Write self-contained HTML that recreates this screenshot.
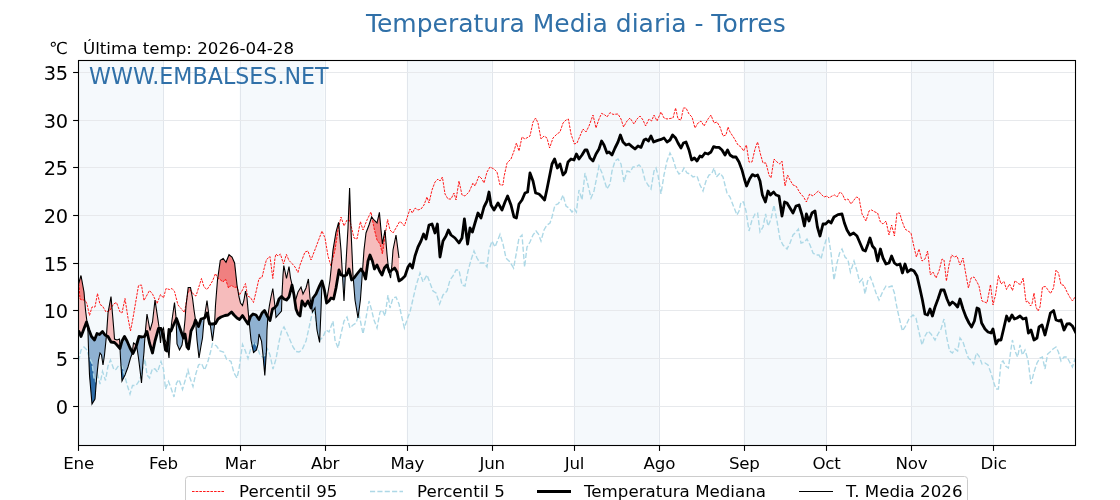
<!DOCTYPE html>
<html lang="es"><head><meta charset="utf-8"><title>Temperatura Media diaria - Torres</title>
<style>
html,body{margin:0;padding:0;background:#fff;}
body{width:1120px;height:500px;overflow:hidden;position:relative;font-family:"DejaVu Sans","Liberation Sans",sans-serif;}
svg text{font-family:"DejaVu Sans","Liberation Sans",sans-serif;fill:#000;}
.t12{font-size:16.67px;}
.t14{font-size:19.4px;letter-spacing:-0.45px;}
.title{font-size:25px;fill:#3070a8;}
.wm{font-size:22.2px;fill:#3070a8;}
</style></head><body>
<svg width="1120" height="500" viewBox="0 0 1120 500" style="position:absolute;left:0;top:0">
<defs><clipPath id="ax"><rect x="78.5" y="60.5" width="997" height="385"/></clipPath></defs>
<rect x="0" y="0" width="1120" height="500" fill="#fff"/>
<rect x="78.00" y="60.5" width="84.93" height="385.0" fill="#f5f9fc"/>
<rect x="239.63" y="60.5" width="84.93" height="385.0" fill="#f5f9fc"/>
<rect x="406.74" y="60.5" width="84.93" height="385.0" fill="#f5f9fc"/>
<rect x="573.85" y="60.5" width="84.93" height="385.0" fill="#f5f9fc"/>
<rect x="743.70" y="60.5" width="82.19" height="385.0" fill="#f5f9fc"/>
<rect x="910.81" y="60.5" width="82.19" height="385.0" fill="#f5f9fc"/>
<line x1="78.5" x2="78.5" y1="60.5" y2="445.5" stroke="#e1e6ec" stroke-width="1"/>
<line x1="163.5" x2="163.5" y1="60.5" y2="445.5" stroke="#e1e6ec" stroke-width="1"/>
<line x1="240.5" x2="240.5" y1="60.5" y2="445.5" stroke="#e1e6ec" stroke-width="1"/>
<line x1="325.5" x2="325.5" y1="60.5" y2="445.5" stroke="#e1e6ec" stroke-width="1"/>
<line x1="407.5" x2="407.5" y1="60.5" y2="445.5" stroke="#e1e6ec" stroke-width="1"/>
<line x1="492.5" x2="492.5" y1="60.5" y2="445.5" stroke="#e1e6ec" stroke-width="1"/>
<line x1="574.5" x2="574.5" y1="60.5" y2="445.5" stroke="#e1e6ec" stroke-width="1"/>
<line x1="659.5" x2="659.5" y1="60.5" y2="445.5" stroke="#e1e6ec" stroke-width="1"/>
<line x1="744.5" x2="744.5" y1="60.5" y2="445.5" stroke="#e1e6ec" stroke-width="1"/>
<line x1="826.5" x2="826.5" y1="60.5" y2="445.5" stroke="#e1e6ec" stroke-width="1"/>
<line x1="911.5" x2="911.5" y1="60.5" y2="445.5" stroke="#e1e6ec" stroke-width="1"/>
<line x1="993.5" x2="993.5" y1="60.5" y2="445.5" stroke="#e1e6ec" stroke-width="1"/>
<line x1="78.5" x2="1075.5" y1="406.5" y2="406.5" stroke="#e7e9ec" stroke-width="1"/>
<line x1="78.5" x2="1075.5" y1="358.5" y2="358.5" stroke="#e7e9ec" stroke-width="1"/>
<line x1="78.5" x2="1075.5" y1="310.5" y2="310.5" stroke="#e7e9ec" stroke-width="1"/>
<line x1="78.5" x2="1075.5" y1="263.5" y2="263.5" stroke="#e7e9ec" stroke-width="1"/>
<line x1="78.5" x2="1075.5" y1="215.5" y2="215.5" stroke="#e7e9ec" stroke-width="1"/>
<line x1="78.5" x2="1075.5" y1="167.5" y2="167.5" stroke="#e7e9ec" stroke-width="1"/>
<line x1="78.5" x2="1075.5" y1="120.5" y2="120.5" stroke="#e7e9ec" stroke-width="1"/>
<line x1="78.5" x2="1075.5" y1="72.5" y2="72.5" stroke="#e7e9ec" stroke-width="1"/>
<g clip-path="url(#ax)">
<polygon points="78.50,284.00 78.75,283.15 79.00,282.30 79.25,281.45 79.50,280.60 79.75,279.75 80.00,278.90 80.25,278.05 80.50,277.20 80.75,276.35 81.00,275.50 81.25,276.88 81.50,278.25 81.75,279.62 82.00,281.00 82.25,282.38 82.50,283.75 82.75,285.12 83.00,286.50 83.25,287.88 83.50,289.25 83.75,290.62 84.00,292.00 84.25,295.00 84.50,298.00 84.75,301.00 85.00,304.00 85.25,307.00 85.50,310.00 85.75,312.00 86.00,314.00 86.25,316.00 86.50,318.00 86.75,320.00 87.00,322.00 87.25,324.40 87.25,324.40 87.00,323.60 86.75,322.80 86.50,322.00 86.25,322.67 86.00,323.33 85.75,324.00 85.50,324.67 85.25,325.33 85.00,326.00 84.75,326.67 84.50,327.33 84.25,328.00 84.00,328.67 83.75,329.33 83.50,330.00 83.25,330.65 83.00,331.30 82.75,331.95 82.50,332.60 82.25,333.25 82.00,333.90 81.75,334.55 81.50,335.20 81.25,335.85 81.00,336.50 80.75,335.88 80.50,335.25 80.25,334.62 80.00,334.00 79.75,333.38 79.50,332.75 79.25,332.12 79.00,331.50 78.75,331.50 78.50,331.50" fill="#f6bcbc" fill-opacity="1"/><polygon points="106.25,335.62 106.50,335.00 106.75,331.33 107.00,327.67 107.25,324.00 107.50,320.33 107.75,316.67 108.00,313.00 108.25,311.62 108.50,310.25 108.75,308.88 109.00,307.50 109.25,306.12 109.50,304.75 109.75,303.38 110.00,302.00 110.25,300.62 110.50,299.25 110.75,297.88 111.00,296.50 111.25,299.44 111.50,302.38 111.75,305.31 112.00,308.25 112.25,311.19 112.50,314.12 112.75,317.06 113.00,320.00 113.25,323.00 113.50,326.00 113.75,329.00 114.00,332.00 114.25,335.50 114.50,339.00 114.75,339.10 115.00,339.20 115.25,339.30 115.50,339.40 115.75,339.50 116.00,339.60 116.25,339.70 116.50,339.80 116.75,339.90 117.00,340.00 117.25,339.90 117.50,339.80 117.75,339.70 118.00,339.60 118.25,339.50 118.50,339.40 118.75,339.30 119.00,339.20 119.25,339.10 119.50,339.00 119.75,343.50 120.00,348.00 120.25,347.56 120.25,347.56 120.00,348.50 119.75,348.21 119.50,347.92 119.25,347.62 119.00,347.33 118.75,347.04 118.50,346.75 118.25,346.46 118.00,346.17 117.75,345.88 117.50,345.58 117.25,345.29 117.00,345.00 116.75,344.75 116.50,344.50 116.25,344.25 116.00,344.00 115.75,343.75 115.50,343.50 115.25,343.25 115.00,343.00 114.75,342.75 114.50,342.50 114.25,342.46 114.00,342.43 113.75,342.39 113.50,342.36 113.25,342.32 113.00,342.29 112.75,342.25 112.50,342.21 112.25,342.18 112.00,342.14 111.75,342.11 111.50,342.07 111.25,342.04 111.00,342.00 110.75,341.54 110.50,341.08 110.25,340.62 110.00,340.17 109.75,339.71 109.50,339.25 109.25,338.79 109.00,338.33 108.75,337.88 108.50,337.42 108.25,336.96 108.00,336.50 107.75,336.38 107.50,336.25 107.25,336.12 107.00,336.00 106.75,335.88 106.50,335.75 106.25,335.62" fill="#f6bcbc" fill-opacity="1"/><polygon points="132.25,352.12 132.50,350.33 132.75,348.50 133.00,346.67 133.25,344.83 133.50,343.00 133.75,343.17 134.00,343.33 134.25,343.50 134.50,343.67 134.75,343.83 135.00,344.00 135.25,344.50 135.50,345.00 135.75,345.50 136.00,346.00 136.25,346.12 136.25,346.12 136.00,347.00 135.75,347.54 135.50,348.08 135.25,348.62 135.00,349.17 134.75,349.71 134.50,350.25 134.25,350.79 134.00,351.33 133.75,351.88 133.50,352.42 133.25,352.96 133.00,353.50 132.75,353.04 132.50,352.58 132.25,352.12" fill="#f6bcbc" fill-opacity="1"/><polygon points="145.00,335.50 145.25,333.25 145.50,330.00 145.75,327.33 146.00,324.67 146.25,322.00 146.50,319.33 146.75,316.67 147.00,314.00 147.25,315.38 147.50,316.75 147.75,318.12 148.00,319.50 148.25,320.88 148.50,322.25 148.75,323.62 149.00,325.00 149.25,326.38 149.50,327.75 149.75,329.12 150.00,330.50 150.25,329.65 150.50,328.80 150.75,327.95 151.00,327.10 151.25,326.25 151.50,325.40 151.75,324.55 152.00,323.70 152.25,322.85 152.50,322.00 152.75,319.80 153.00,317.60 153.25,315.40 153.50,313.20 153.75,311.00 154.00,308.80 154.25,306.60 154.50,304.40 154.75,302.20 155.00,300.00 155.25,301.67 155.50,303.33 155.75,305.00 156.00,306.67 156.25,308.33 156.50,310.00 156.75,311.67 157.00,313.33 157.25,315.00 157.50,316.67 157.75,318.33 158.00,320.00 158.25,321.75 158.50,323.50 158.75,325.25 159.00,327.00 159.25,328.50 159.25,328.50 159.00,328.50 158.75,328.50 158.50,328.50 158.25,329.39 158.00,330.29 157.75,331.18 157.50,332.07 157.25,332.96 157.00,333.86 156.75,334.75 156.50,335.64 156.25,336.54 156.00,337.43 155.75,338.32 155.50,339.21 155.25,340.11 155.00,341.00 154.75,342.20 154.50,343.40 154.25,344.60 154.00,345.80 153.75,347.00 153.50,348.20 153.25,349.40 153.00,350.60 152.75,351.80 152.50,353.00 152.25,352.17 152.00,351.33 151.75,350.50 151.50,349.67 151.25,348.83 151.00,348.00 150.75,347.17 150.50,346.33 150.25,345.50 150.00,344.67 149.75,343.83 149.50,343.00 149.25,341.85 149.00,340.70 148.75,339.55 148.50,338.40 148.25,337.25 148.00,336.10 147.75,334.95 147.50,333.80 147.25,332.65 147.00,331.50 146.75,332.00 146.50,332.50 146.25,333.00 146.00,333.50 145.75,334.00 145.50,334.50 145.25,335.00 145.00,335.50" fill="#f6bcbc" fill-opacity="1"/><polygon points="161.75,330.94 162.00,331.00 162.25,330.50 162.50,330.00 162.75,329.50 163.00,329.00 163.25,328.50 163.50,328.00 163.75,330.00 164.00,332.00 164.25,334.00 164.50,336.00 164.75,338.00 165.00,340.00 165.25,340.50 165.50,341.00 165.75,341.50 166.00,342.00 166.25,342.50 166.50,343.00 166.75,344.17 167.00,345.33 167.25,346.50 167.50,345.62 167.50,345.62 167.25,348.31 167.00,351.00 166.75,350.83 166.50,350.67 166.25,350.50 166.00,350.33 165.75,350.17 165.50,350.00 165.25,348.50 165.00,347.00 164.75,345.50 164.50,344.00 164.25,342.50 164.00,341.00 163.75,339.50 163.50,338.00 163.25,336.50 163.00,335.00 162.75,334.19 162.50,333.38 162.25,332.56 162.00,331.75 161.75,330.94" fill="#f6bcbc" fill-opacity="1"/><polygon points="170.75,330.81 171.00,328.67 171.25,326.50 171.50,324.33 171.75,322.17 172.00,320.00 172.25,318.25 172.50,316.50 172.75,314.75 173.00,313.00 173.25,311.25 173.50,309.50 173.75,307.75 174.00,306.00 174.25,304.25 174.50,302.50 174.75,304.92 175.00,307.33 175.25,309.75 175.50,312.17 175.75,314.58 176.00,317.00 176.25,319.04 176.25,319.04 176.00,319.58 175.75,320.12 175.50,320.67 175.25,321.21 175.00,321.75 174.75,322.29 174.50,322.83 174.25,323.38 174.00,323.92 173.75,324.46 173.50,325.00 173.25,325.60 173.00,326.20 172.75,326.80 172.50,327.40 172.25,328.00 172.00,328.60 171.75,329.20 171.50,329.80 171.25,330.40 171.00,331.00 170.75,330.81" fill="#f6bcbc" fill-opacity="1"/><polygon points="183.00,336.67 183.25,336.67 183.50,335.00 183.75,332.50 184.00,330.00 184.25,327.50 184.50,325.00 184.75,322.50 185.00,320.00 185.25,316.50 185.50,313.00 185.75,309.50 186.00,306.00 186.25,303.90 186.50,301.80 186.75,299.69 187.00,297.59 187.25,295.49 187.50,293.39 187.75,291.28 188.00,289.18 188.20,287.50 188.25,287.50 188.50,287.50 188.75,287.50 189.00,287.50 189.25,287.50 189.50,287.50 189.75,287.50 190.00,287.50 190.25,287.50 190.50,287.50 190.75,288.81 191.00,290.12 191.25,291.44 191.50,292.75 191.75,294.06 192.00,295.38 192.25,296.69 192.50,298.00 192.75,300.00 193.00,302.00 193.25,304.00 193.50,306.00 193.75,308.00 194.00,310.00 194.25,311.67 194.50,313.33 194.75,315.00 195.00,316.67 195.25,318.33 195.50,320.00 195.50,320.00 195.25,320.83 195.00,321.67 194.75,322.50 194.50,323.33 194.25,324.17 194.00,325.00 193.75,325.50 193.50,326.00 193.25,326.50 193.00,327.00 192.75,327.50 192.50,328.00 192.25,328.50 192.00,329.00 191.75,329.50 191.50,330.00 191.25,330.50 191.00,331.00 190.75,332.80 190.50,334.60 190.25,336.40 190.00,338.20 189.75,340.00 189.50,341.80 189.25,343.60 189.00,345.40 188.75,347.20 188.50,349.00 188.25,348.67 188.20,348.60 188.00,348.33 187.75,348.00 187.50,347.67 187.25,347.33 187.00,347.00 186.75,345.38 186.50,343.75 186.25,342.12 186.00,340.50 185.75,338.88 185.50,337.25 185.25,335.62 185.00,334.00 184.75,334.67 184.50,335.33 184.25,336.00 184.00,336.67 183.75,337.33 183.50,338.00 183.25,337.33 183.00,336.67" fill="#f6bcbc" fill-opacity="1"/><polygon points="204.25,318.07 204.50,316.75 204.75,315.12 205.00,313.50 205.25,311.88 205.50,310.25 205.75,308.62 206.00,307.00 206.25,305.38 206.50,303.75 206.75,302.12 207.00,300.50 207.25,302.45 207.50,304.40 207.75,306.35 208.00,308.30 208.25,310.25 208.50,312.20 208.75,314.15 209.00,316.10 209.25,318.05 209.50,320.00 209.75,321.67 210.00,323.33 210.25,324.00 210.25,324.00 210.00,324.00 209.75,324.00 209.50,324.00 209.25,322.90 209.00,321.80 208.75,320.70 208.50,319.60 208.25,318.50 208.00,317.40 207.75,316.30 207.50,315.20 207.25,314.10 207.00,313.00 206.75,313.50 206.50,314.00 206.25,314.50 206.00,315.00 205.75,315.50 205.50,316.00 205.25,316.50 205.00,317.00 204.75,317.50 204.50,318.00 204.25,318.07" fill="#f6bcbc" fill-opacity="1"/><polygon points="214.50,323.67 214.75,320.00 215.00,315.00 215.25,310.00 215.50,305.00 215.75,301.88 216.00,298.75 216.25,295.62 216.50,292.50 216.75,289.38 217.00,286.25 217.25,283.12 217.50,280.00 217.75,278.24 218.00,276.48 218.25,274.72 218.50,272.96 218.75,271.21 219.00,269.45 219.25,267.69 219.50,265.93 219.75,264.17 220.00,262.41 220.25,260.65 220.30,260.30 220.50,260.17 220.75,260.01 221.00,259.84 221.25,259.68 221.50,259.51 221.75,259.35 222.00,259.19 222.25,259.02 222.50,258.86 222.75,258.69 223.00,258.53 223.20,258.40 223.25,258.47 223.50,258.82 223.75,259.17 224.00,259.51 224.25,259.86 224.50,260.21 224.75,260.56 225.00,260.91 225.25,261.26 225.50,261.60 225.75,261.95 226.00,262.30 226.25,261.67 226.50,261.03 226.75,260.40 227.00,259.77 227.25,259.13 227.50,258.50 227.75,257.87 228.00,257.23 228.25,256.60 228.50,255.97 228.75,255.33 229.00,254.70 229.25,254.89 229.50,255.08 229.75,255.27 230.00,255.47 230.25,255.66 230.50,255.85 230.75,256.04 231.00,256.23 231.25,256.43 231.50,256.62 231.75,256.81 232.00,257.00 232.25,257.58 232.50,258.15 232.75,258.73 233.00,259.31 233.25,259.88 233.50,260.46 233.75,261.04 234.00,261.62 234.25,262.19 234.50,262.77 234.60,263.00 234.75,264.38 235.00,266.67 235.25,268.96 235.50,271.25 235.75,273.54 236.00,275.83 236.25,278.12 236.50,280.42 236.75,282.71 237.00,285.00 237.25,286.50 237.50,288.00 237.75,289.50 238.00,291.00 238.25,292.50 238.50,294.00 238.75,295.50 239.00,297.00 239.25,298.00 239.50,299.00 239.75,300.00 240.00,301.00 240.25,302.00 240.50,303.00 240.75,303.31 241.00,303.62 241.25,303.94 241.50,304.25 241.75,304.56 242.00,304.88 242.25,305.19 242.50,305.50 242.75,304.58 243.00,303.67 243.25,302.75 243.50,301.83 243.75,300.92 244.00,300.00 244.25,298.50 244.50,297.00 244.75,295.50 245.00,294.00 245.25,292.50 245.50,291.00 245.75,292.17 246.00,293.33 246.25,294.50 246.50,295.67 246.75,296.83 247.00,298.00 247.25,300.83 247.50,303.67 247.75,306.50 248.00,309.33 248.25,312.17 248.50,315.00 248.75,317.50 249.00,320.00 249.25,320.25 249.25,320.25 249.00,321.00 248.75,321.75 248.50,322.50 248.25,323.25 248.00,324.00 247.75,323.62 247.50,323.25 247.25,322.88 247.00,322.50 246.75,322.12 246.50,321.75 246.25,321.38 246.00,321.00 245.75,320.62 245.50,320.25 245.25,319.88 245.00,319.50 244.75,319.10 244.50,318.70 244.25,318.30 244.00,317.90 243.75,317.50 243.50,317.10 243.25,316.70 243.00,316.30 242.75,315.90 242.50,315.50 242.25,315.83 242.00,316.17 241.75,316.50 241.50,316.83 241.25,317.17 241.00,317.50 240.75,317.83 240.50,318.17 240.25,318.50 240.00,318.83 239.75,319.17 239.50,319.50 239.25,319.35 239.00,319.20 238.75,319.05 238.50,318.90 238.25,318.75 238.00,318.60 237.75,318.45 237.50,318.30 237.25,318.15 237.00,318.00 236.75,317.75 236.50,317.50 236.25,317.25 236.00,317.00 235.75,316.75 235.50,316.50 235.25,316.25 235.00,316.00 234.75,315.75 234.60,315.60 234.50,315.50 234.25,315.25 234.00,315.00 233.75,314.70 233.50,314.40 233.25,314.10 233.00,313.80 232.75,313.50 232.50,313.20 232.25,312.90 232.00,312.60 231.75,312.30 231.50,312.00 231.25,312.21 231.00,312.43 230.75,312.64 230.50,312.86 230.25,313.07 230.00,313.29 229.75,313.50 229.50,313.71 229.25,313.93 229.00,314.14 228.75,314.36 228.50,314.57 228.25,314.79 228.00,315.00 227.75,315.04 227.50,315.08 227.25,315.12 227.00,315.17 226.75,315.21 226.50,315.25 226.25,315.29 226.00,315.33 225.75,315.38 225.50,315.42 225.25,315.46 225.00,315.50 224.75,315.59 224.50,315.69 224.25,315.78 224.00,315.88 223.75,315.97 223.50,316.06 223.25,316.16 223.20,316.18 223.00,316.25 222.75,316.34 222.50,316.44 222.25,316.53 222.00,316.62 221.75,316.72 221.50,316.81 221.25,316.91 221.00,317.00 220.75,317.17 220.50,317.33 220.30,317.47 220.25,317.50 220.00,317.67 219.75,317.83 219.50,318.00 219.25,318.17 219.00,318.33 218.75,318.50 218.50,318.67 218.25,318.83 218.00,319.00 217.75,319.45 217.50,319.90 217.25,320.35 217.00,320.80 216.75,321.25 216.50,321.70 216.25,322.15 216.00,322.60 215.75,323.05 215.50,323.50 215.25,323.54 215.00,323.58 214.75,323.62 214.50,323.67" fill="#f6bcbc" fill-opacity="1"/><polygon points="267.75,316.90 268.00,315.00 268.25,313.33 268.50,311.67 268.75,310.00 269.00,308.33 269.25,306.67 269.50,305.00 269.75,303.67 270.00,302.33 270.25,301.00 270.50,299.67 270.75,298.33 271.00,297.00 271.25,295.82 271.50,294.64 271.75,293.46 272.00,292.28 272.25,291.10 272.50,289.92 272.75,288.74 272.80,288.50 273.00,290.08 273.25,292.06 273.50,294.04 273.75,296.02 274.00,298.00 274.25,300.25 274.50,302.50 274.75,304.75 275.00,307.00 275.25,307.19 275.25,307.19 275.00,307.50 274.75,307.65 274.50,307.80 274.25,307.95 274.00,308.10 273.75,308.25 273.50,308.40 273.25,308.55 273.00,308.70 272.80,308.82 272.75,308.85 272.50,309.00 272.25,310.15 272.00,311.30 271.75,312.45 271.50,313.60 271.25,314.75 271.00,315.90 270.75,317.05 270.50,318.20 270.25,319.35 270.00,320.50 269.75,320.10 269.50,319.70 269.25,319.30 269.00,318.90 268.75,318.50 268.50,318.10 268.25,317.70 268.00,317.30 267.75,316.90" fill="#f6bcbc" fill-opacity="1"/><polygon points="281.75,296.75 282.00,295.00 282.25,290.00 282.50,285.00 282.75,280.00 283.00,275.00 283.25,272.03 283.50,269.06 283.75,266.09 283.80,265.50 284.00,266.46 284.25,267.67 284.50,268.87 284.75,270.07 285.00,271.28 285.25,272.48 285.50,273.69 285.75,274.89 286.00,276.09 286.25,277.30 286.40,278.02 286.50,278.50 286.75,277.30 287.00,276.10 287.25,274.90 287.50,273.70 287.75,272.50 288.00,271.30 288.25,270.10 288.50,268.90 288.75,267.70 289.00,266.50 289.25,268.42 289.50,270.33 289.75,272.25 290.00,274.17 290.25,276.08 290.50,278.00 290.75,279.08 291.00,280.17 291.25,281.25 291.50,282.33 291.75,283.42 292.00,284.50 292.25,285.58 292.50,286.67 292.75,287.75 293.00,288.83 293.25,289.92 293.50,291.00 293.75,292.83 294.00,294.67 294.25,296.50 294.50,298.33 294.75,300.17 295.00,302.00 295.00,302.00 294.75,300.25 294.50,298.50 294.25,296.75 294.00,295.00 293.75,293.75 293.50,292.50 293.25,291.25 293.00,290.00 292.75,288.75 292.50,287.50 292.25,286.25 292.00,285.00 291.75,286.00 291.50,287.00 291.25,288.00 291.00,289.00 290.75,290.00 290.50,291.00 290.25,292.00 290.00,293.00 289.75,294.00 289.50,295.00 289.25,296.00 289.00,297.00 288.75,297.30 288.50,297.60 288.25,297.90 288.00,298.20 287.75,298.50 287.50,298.80 287.25,299.10 287.00,299.40 286.75,299.70 286.50,300.00 286.40,299.96 286.25,299.90 286.00,299.80 285.75,299.70 285.50,299.60 285.25,299.50 285.00,299.40 284.75,299.30 284.50,299.20 284.25,299.10 284.00,299.00 283.80,298.80 283.75,298.75 283.50,298.50 283.25,298.25 283.00,298.00 282.75,297.75 282.50,297.50 282.25,297.25 282.00,297.00 281.75,296.75" fill="#f6bcbc" fill-opacity="1"/><polygon points="295.00,302.00 295.25,301.17 295.50,300.33 295.75,299.50 296.00,298.67 296.25,297.83 296.50,297.00 296.75,296.17 297.00,295.33 297.25,294.50 297.50,293.67 297.75,292.83 298.00,292.00 298.25,291.58 298.50,291.17 298.75,290.75 299.00,290.33 299.25,289.92 299.50,289.50 299.75,289.08 300.00,288.67 300.25,288.25 300.50,287.83 300.75,287.42 301.00,287.00 301.25,287.88 301.50,288.75 301.75,289.62 302.00,290.50 302.25,291.38 302.50,292.25 302.75,293.12 303.00,294.00 303.25,293.50 303.50,293.00 303.75,292.50 304.00,292.00 304.25,291.50 304.50,291.00 304.75,290.50 305.00,290.00 305.25,289.50 305.50,289.00 305.75,288.50 306.00,288.00 306.25,287.06 306.50,286.12 306.75,285.19 307.00,284.25 307.25,283.31 307.50,282.37 307.75,281.44 308.00,280.50 308.25,279.56 308.40,279.00 308.50,280.19 308.75,283.16 309.00,286.13 309.25,289.09 309.50,292.06 309.75,295.03 310.00,298.00 310.25,299.46 310.50,300.92 310.75,302.38 311.00,303.83 311.25,305.29 311.50,305.50 311.50,305.50 311.25,306.75 311.00,308.00 310.75,307.42 310.50,306.83 310.25,306.25 310.00,305.67 309.75,305.08 309.50,304.50 309.25,303.92 309.00,303.33 308.75,302.75 308.50,302.17 308.40,301.93 308.25,301.58 308.00,301.00 307.75,301.42 307.50,301.83 307.25,302.25 307.00,302.67 306.75,303.08 306.50,303.50 306.25,303.92 306.00,304.33 305.75,304.75 305.50,305.17 305.25,305.58 305.00,306.00 304.75,305.58 304.50,305.17 304.25,304.75 304.00,304.33 303.75,303.92 303.50,303.50 303.25,303.08 303.00,302.67 302.75,302.25 302.50,301.83 302.25,301.42 302.00,301.00 301.75,302.88 301.50,304.75 301.25,306.62 301.00,308.50 300.75,310.38 300.50,312.25 300.25,314.12 300.00,316.00 299.75,315.75 299.50,315.50 299.25,315.25 299.00,315.00 298.75,314.75 298.50,314.50 298.25,314.25 298.00,314.00 297.75,313.38 297.50,312.75 297.25,312.12 297.00,311.50 296.75,310.88 296.50,310.25 296.25,309.62 296.00,309.00 295.75,307.25 295.50,305.50 295.25,303.75 295.00,302.00" fill="#f6bcbc" fill-opacity="1"/><polygon points="324.40,290.00 324.50,290.50 324.75,291.75 325.00,293.00 325.25,294.25 325.50,295.50 325.75,296.75 326.00,298.00 326.25,299.25 326.50,300.50 326.60,301.00 326.75,300.07 327.00,298.53 327.25,296.99 327.50,295.44 327.75,293.90 328.00,292.35 328.25,290.81 328.50,289.26 328.75,287.72 329.00,286.18 329.25,284.63 329.50,283.09 329.75,281.54 330.00,280.00 330.25,277.50 330.50,275.00 330.75,272.50 331.00,270.00 331.25,267.50 331.50,265.00 331.75,262.50 332.00,260.00 332.25,257.50 332.50,255.00 332.75,252.50 333.00,250.00 333.25,248.50 333.50,247.00 333.60,246.40 333.75,245.50 334.00,244.00 334.25,242.50 334.50,241.00 334.75,239.50 335.00,238.00 335.25,236.50 335.50,235.00 335.75,233.50 336.00,232.00 336.25,231.08 336.50,230.15 336.75,229.23 337.00,228.31 337.25,227.38 337.50,226.46 337.75,225.54 338.00,224.62 338.25,223.69 338.50,222.77 338.60,222.40 338.75,224.12 339.00,227.00 339.25,229.87 339.50,232.75 339.75,235.62 340.00,238.50 340.25,241.37 340.50,244.25 340.75,247.12 341.00,250.00 341.25,254.29 341.50,258.57 341.75,262.86 342.00,267.14 342.25,271.43 342.40,274.00 342.50,275.50 342.50,275.50 342.40,275.47 342.25,275.42 342.00,275.33 341.75,275.25 341.50,275.17 341.25,275.08 341.00,275.00 340.75,274.38 340.50,273.75 340.25,273.12 340.00,272.50 339.75,271.88 339.50,271.25 339.25,270.62 339.00,270.00 338.75,271.50 338.60,272.40 338.50,273.00 338.25,274.50 338.00,276.00 337.75,277.50 337.50,279.00 337.25,280.50 337.00,282.00 336.75,283.50 336.50,285.00 336.25,286.50 336.00,288.00 335.75,289.15 335.50,290.29 335.25,291.44 335.00,292.58 334.75,293.73 334.50,294.88 334.25,296.02 334.00,297.17 333.75,298.31 333.60,299.00 333.50,298.96 333.25,298.87 333.00,298.77 332.75,298.67 332.50,298.58 332.25,298.48 332.00,298.38 331.75,298.29 331.50,298.19 331.25,298.10 331.00,298.00 330.75,298.38 330.50,298.75 330.25,299.12 330.00,299.50 329.75,299.88 329.50,300.25 329.25,300.62 329.00,301.00 328.75,301.21 328.50,301.42 328.25,301.62 328.00,301.83 327.75,302.04 327.50,302.25 327.25,302.46 327.00,302.67 326.75,302.88 326.60,303.00 326.50,302.41 326.25,300.93 326.00,299.45 325.75,297.98 325.50,296.50 325.25,295.02 325.00,293.55 324.75,292.07 324.50,290.59 324.40,290.00" fill="#f6bcbc" fill-opacity="1"/><polygon points="345.25,275.52 345.50,271.94 345.60,270.00 345.75,267.38 346.00,263.00 346.25,258.63 346.50,254.25 346.60,252.50 346.75,249.88 347.00,245.50 347.25,241.13 347.50,236.75 347.75,232.38 348.00,228.00 348.25,221.75 348.50,215.50 348.75,209.25 349.00,203.00 349.25,196.75 349.50,190.50 349.60,188.00 349.75,192.50 350.00,200.00 350.25,207.50 350.50,215.00 350.75,222.50 351.00,230.00 351.25,235.62 351.50,241.25 351.60,243.50 351.75,246.88 352.00,252.50 352.25,258.12 352.50,263.75 352.75,269.38 353.00,275.00 353.25,278.12 353.50,278.42 353.50,278.42 353.25,278.62 353.00,278.83 352.75,279.04 352.50,279.25 352.25,279.46 352.00,279.67 351.75,279.88 351.60,280.00 351.50,279.58 351.25,278.52 351.00,277.46 350.75,276.40 350.50,275.35 350.25,274.29 350.00,273.23 349.75,272.17 349.60,271.54 349.50,271.12 349.25,270.06 349.00,269.00 348.75,269.62 348.50,270.25 348.25,270.88 348.00,271.50 347.75,272.13 347.50,272.75 347.25,273.38 347.00,274.00 346.75,274.63 346.60,275.00 346.50,275.04 346.25,275.13 346.00,275.23 345.75,275.33 345.60,275.38 345.50,275.42 345.25,275.52" fill="#f6bcbc" fill-opacity="1"/><polygon points="362.25,270.92 362.50,271.00 362.75,267.50 363.00,264.00 363.25,260.50 363.50,257.00 363.60,255.60 363.75,253.50 364.00,250.00 364.25,247.88 364.50,245.75 364.75,243.62 365.00,241.50 365.25,239.38 365.50,237.25 365.60,236.40 365.75,235.12 366.00,233.00 366.25,232.33 366.50,231.67 366.75,231.00 367.00,230.33 367.25,229.67 367.50,229.00 367.75,228.33 368.00,227.67 368.25,227.00 368.50,226.33 368.75,225.67 369.00,225.00 369.25,224.23 369.50,223.46 369.75,222.69 370.00,221.92 370.25,221.15 370.50,220.38 370.75,219.62 371.00,218.85 371.25,218.08 371.50,217.31 371.60,217.00 371.75,217.19 372.00,217.50 372.25,217.81 372.40,218.00 372.50,218.12 372.75,218.44 373.00,218.75 373.25,219.06 373.50,219.38 373.75,219.69 374.00,220.00 374.25,220.25 374.40,220.40 374.50,220.50 374.75,220.75 375.00,221.00 375.25,221.25 375.50,221.50 375.75,221.75 376.00,222.00 376.25,222.25 376.50,222.50 376.75,222.75 377.00,223.00 377.25,221.90 377.50,220.79 377.75,219.69 378.00,218.58 378.25,217.48 378.50,216.37 378.75,215.27 379.00,214.17 379.25,213.06 379.40,212.40 379.50,213.50 379.60,214.60 379.75,216.25 380.00,219.00 380.25,221.75 380.50,224.50 380.75,227.25 381.00,230.00 381.25,232.50 381.50,235.00 381.75,237.50 382.00,240.00 382.25,242.50 382.40,244.00 382.50,243.46 382.75,242.12 383.00,240.77 383.25,239.42 383.50,238.08 383.75,236.73 384.00,235.38 384.25,234.04 384.40,233.23 384.50,232.69 384.75,231.35 385.00,230.00 385.25,233.00 385.50,236.00 385.75,239.00 386.00,242.00 386.25,245.00 386.50,248.00 386.75,251.00 387.00,254.00 387.25,256.50 387.50,259.00 387.60,260.00 387.75,261.50 388.00,264.00 388.25,265.79 388.50,267.57 388.75,269.36 389.00,270.83 389.00,270.83 388.75,270.10 388.50,269.38 388.25,268.65 388.00,267.92 387.75,267.19 387.60,266.75 387.50,266.46 387.25,265.73 387.00,265.00 386.75,265.29 386.50,265.58 386.25,265.87 386.00,266.15 385.75,266.44 385.50,266.73 385.25,267.02 385.00,267.31 384.75,267.60 384.50,267.88 384.40,268.00 384.25,268.44 384.00,269.17 383.75,269.90 383.50,270.62 383.25,271.35 383.00,272.08 382.75,272.81 382.50,273.54 382.40,273.83 382.25,274.27 382.00,275.00 381.75,274.58 381.50,274.17 381.25,273.75 381.00,273.33 380.75,272.92 380.50,272.50 380.25,272.08 380.00,271.67 379.75,271.25 379.60,271.00 379.50,270.77 379.40,270.54 379.25,270.19 379.00,269.62 378.75,269.04 378.50,268.46 378.25,267.88 378.00,267.31 377.75,266.73 377.50,266.15 377.25,265.58 377.00,265.00 376.75,265.38 376.50,265.77 376.25,266.15 376.00,266.54 375.75,266.92 375.50,267.31 375.25,267.69 375.00,268.08 374.75,268.46 374.50,268.85 374.40,269.00 374.25,268.40 374.00,267.40 373.75,266.40 373.50,265.40 373.25,264.40 373.00,263.40 372.75,262.40 372.50,261.40 372.40,261.00 372.25,260.63 372.00,260.00 371.75,259.38 371.60,259.00 371.50,258.75 371.25,258.13 371.00,257.50 370.75,256.88 370.50,256.25 370.25,255.62 370.00,255.00 369.75,255.75 369.50,256.50 369.25,257.25 369.00,258.00 368.75,258.75 368.50,259.50 368.25,260.25 368.00,261.00 367.75,262.88 367.50,264.75 367.25,266.63 367.00,268.50 366.75,270.38 366.50,272.25 366.25,274.13 366.00,276.00 365.75,277.88 365.60,279.00 365.50,278.70 365.25,277.95 365.00,277.20 364.75,276.45 364.50,275.70 364.25,274.95 364.00,274.20 363.75,273.45 363.60,273.00 363.50,272.85 363.25,272.46 363.00,272.08 362.75,271.69 362.50,271.31 362.25,270.92" fill="#f6bcbc" fill-opacity="1"/><polygon points="391.25,270.58 391.50,269.00 391.75,266.50 392.00,264.00 392.25,260.50 392.50,257.00 392.75,253.50 393.00,250.00 393.25,248.75 393.50,247.50 393.75,246.25 394.00,245.00 394.25,243.75 394.50,242.50 394.60,242.00 394.75,241.25 395.00,240.00 395.25,238.75 395.50,237.50 395.75,236.25 396.00,235.00 396.25,236.92 396.50,238.83 396.75,240.75 397.00,242.67 397.25,244.58 397.50,246.50 397.75,248.42 398.00,250.33 398.25,252.25 398.50,254.17 398.75,256.08 399.00,258.00 399.00,281.00 398.75,279.88 398.50,278.75 398.25,277.62 398.00,276.50 397.75,275.38 397.50,274.25 397.25,273.12 397.00,272.00 396.75,271.58 396.50,271.17 396.25,270.75 396.00,270.33 395.75,269.92 395.50,269.50 395.25,269.08 395.00,268.67 394.75,268.25 394.60,268.00 394.50,268.08 394.25,268.27 394.00,268.46 393.75,268.65 393.50,268.85 393.25,269.04 393.00,269.23 392.75,269.42 392.50,269.62 392.25,269.81 392.00,270.00 391.75,270.19 391.50,270.38 391.25,270.58" fill="#f6bcbc" fill-opacity="1"/><polygon points="87.00,323.60 87.25,324.40 87.50,325.20 87.75,326.00 88.00,326.80 88.25,327.60 88.50,328.40 88.70,329.04 88.75,329.20 89.00,330.00 89.25,330.65 89.50,331.30 89.75,331.95 90.00,332.60 90.25,333.25 90.50,333.90 90.75,334.55 91.00,335.20 91.25,335.85 91.50,336.50 91.75,336.79 92.00,337.08 92.25,337.38 92.50,337.67 92.75,337.96 93.00,338.25 93.25,338.54 93.50,338.83 93.75,339.12 94.00,339.42 94.25,339.71 94.50,340.00 94.75,339.35 95.00,338.70 95.25,338.05 95.50,337.40 95.75,336.75 96.00,336.10 96.25,335.45 96.50,334.80 96.75,334.15 97.00,333.50 97.25,333.60 97.50,333.70 97.75,333.80 98.00,333.90 98.25,334.00 98.50,334.10 98.75,334.20 99.00,334.30 99.25,334.40 99.50,334.50 99.75,334.25 100.00,334.00 100.25,333.75 100.50,333.50 100.75,333.25 101.00,333.00 101.25,332.75 101.50,332.50 101.75,332.25 102.00,332.00 102.25,331.75 102.50,331.50 102.75,331.85 103.00,332.20 103.25,332.55 103.50,332.90 103.75,333.25 104.00,333.60 104.25,333.95 104.50,334.30 104.75,334.65 105.00,335.00 105.25,335.12 105.50,335.25 105.75,335.38 106.00,335.50 106.25,335.62 106.50,335.75 106.50,335.75 106.25,337.50 106.00,340.00 105.75,342.50 105.50,345.00 105.25,347.50 105.00,350.00 104.75,352.50 104.50,355.00 104.25,356.67 104.00,358.33 103.75,360.00 103.50,361.67 103.25,363.33 103.00,365.00 102.75,363.33 102.50,361.67 102.25,360.00 102.00,358.33 101.75,356.67 101.50,355.00 101.25,354.67 101.00,354.33 100.75,354.00 100.50,353.67 100.25,353.33 100.00,353.00 99.75,354.17 99.50,355.33 99.25,356.50 99.00,357.67 98.75,358.83 98.50,360.00 98.25,362.38 98.00,364.75 97.75,367.12 97.50,369.50 97.25,371.88 97.00,374.25 96.75,376.62 96.50,379.00 96.25,382.33 96.00,385.67 95.75,389.00 95.50,392.33 95.25,395.67 95.00,399.00 94.75,399.42 94.50,399.83 94.25,400.25 94.00,400.67 93.75,401.08 93.50,401.50 93.25,401.92 93.00,402.33 92.75,402.75 92.50,403.17 92.25,403.58 92.00,404.00 91.75,401.10 91.50,398.20 91.25,395.30 91.00,392.40 90.75,389.50 90.50,386.60 90.25,383.70 90.00,380.80 89.75,377.90 89.50,375.00 89.25,368.75 89.00,362.50 88.75,356.25 88.70,355.00 88.50,348.43 88.25,340.21 88.00,332.00 87.75,329.50 87.50,327.00 87.25,324.50 87.00,323.60" fill="#8fb1d1" fill-opacity="1"/><polygon points="120.00,348.50 120.25,347.56 120.50,346.62 120.75,345.69 121.00,344.75 121.25,343.81 121.50,342.88 121.75,341.94 122.00,341.00 122.25,340.55 122.50,340.10 122.75,339.65 123.00,339.20 123.25,338.75 123.50,338.30 123.75,337.85 124.00,337.40 124.25,336.95 124.50,336.50 124.75,336.95 125.00,337.40 125.25,337.85 125.50,338.30 125.75,338.75 126.00,339.20 126.25,339.65 126.50,340.10 126.75,340.55 127.00,341.00 127.25,341.58 127.50,342.17 127.75,342.75 128.00,343.33 128.25,343.92 128.50,344.50 128.75,345.08 129.00,345.67 129.25,346.25 129.50,346.83 129.75,347.42 130.00,348.00 130.25,348.46 130.50,348.92 130.75,349.38 131.00,349.83 131.25,350.29 131.50,350.75 131.75,351.21 132.00,351.67 132.25,352.12 132.50,352.58 132.50,352.58 132.25,352.17 132.00,354.00 131.75,354.67 131.50,355.33 131.25,356.00 131.00,356.67 130.75,357.33 130.50,358.00 130.25,358.90 130.00,359.80 129.75,360.70 129.50,361.60 129.25,362.50 129.00,363.40 128.75,364.30 128.50,365.20 128.25,366.10 128.00,367.00 127.75,367.67 127.50,368.33 127.25,369.00 127.00,369.67 126.75,370.33 126.50,371.00 126.25,371.67 126.00,372.33 125.75,373.00 125.50,373.67 125.25,374.33 125.00,375.00 124.75,375.50 124.50,376.00 124.25,376.50 124.00,377.00 123.75,377.50 123.50,378.00 123.25,378.50 123.00,379.00 122.75,379.50 122.50,380.00 122.25,380.50 122.00,381.00 121.75,377.17 121.50,373.33 121.25,369.50 121.00,365.67 120.75,361.83 120.50,358.00 120.25,353.00 120.00,348.50" fill="#8fb1d1" fill-opacity="1"/><polygon points="136.00,347.00 136.25,346.12 136.50,345.25 136.75,344.38 137.00,343.50 137.25,342.62 137.50,341.75 137.75,340.88 138.00,340.00 138.25,339.12 138.50,338.25 138.75,337.38 139.00,336.50 139.25,336.54 139.50,336.58 139.75,336.62 140.00,336.67 140.25,336.71 140.50,336.75 140.75,336.79 141.00,336.83 141.25,336.88 141.50,336.92 141.75,336.96 142.00,337.00 142.25,336.95 142.50,336.90 142.75,336.85 142.80,336.84 143.00,336.80 143.25,336.75 143.50,336.70 143.75,336.65 144.00,336.60 144.25,336.55 144.50,336.50 144.75,336.00 145.00,335.50 145.25,335.00 145.25,335.00 145.00,336.50 144.75,339.75 144.50,343.00 144.25,347.50 144.00,352.00 143.75,354.71 143.50,357.42 143.25,360.13 143.00,362.83 142.80,365.00 142.75,365.69 142.50,369.15 142.25,372.62 142.00,376.08 141.75,379.54 141.50,383.00 141.25,380.83 141.00,378.67 140.75,376.50 140.50,374.33 140.25,372.17 140.00,370.00 139.75,368.00 139.50,366.00 139.25,364.00 139.00,362.00 138.75,360.00 138.50,358.00 138.25,356.33 138.00,354.67 137.75,353.00 137.50,351.33 137.25,349.67 137.00,348.00 136.75,347.50 136.50,347.00 136.25,346.50 136.00,347.00" fill="#8fb1d1" fill-opacity="1"/><polygon points="159.00,328.50 159.25,328.50 159.50,328.50 159.75,328.50 160.00,328.50 160.25,328.50 160.50,328.50 160.75,328.50 161.00,328.50 161.25,329.31 161.50,330.12 161.75,330.94 162.00,331.75 162.00,331.75 161.75,331.50 161.50,332.00 161.25,334.75 161.00,337.50 160.75,340.25 160.50,343.00 160.25,340.33 160.00,337.67 159.75,335.00 159.50,332.33 159.25,329.67 159.00,328.50" fill="#8fb1d1" fill-opacity="1"/><polygon points="167.25,348.31 167.50,345.62 167.75,342.94 168.00,340.25 168.25,337.56 168.50,334.88 168.75,332.19 169.00,329.50 169.25,329.69 169.50,329.88 169.75,330.06 170.00,330.25 170.25,330.44 170.50,330.62 170.75,330.81 171.00,331.00 171.00,331.00 170.75,330.83 170.50,333.00 170.25,337.17 170.00,341.33 169.75,345.50 169.50,349.67 169.25,353.83 169.00,358.00 168.75,356.00 168.50,354.00 168.25,352.00 168.00,350.00 167.75,348.83 167.50,347.67 167.25,348.31" fill="#8fb1d1" fill-opacity="1"/><polygon points="176.00,319.58 176.25,319.04 176.50,318.50 176.75,319.20 177.00,319.90 177.25,320.60 177.50,321.30 177.75,322.00 178.00,322.70 178.25,323.40 178.50,324.10 178.75,324.80 179.00,325.50 179.25,326.21 179.50,326.92 179.75,327.62 180.00,328.33 180.25,329.04 180.50,329.75 180.75,330.46 181.00,331.17 181.25,331.88 181.50,332.58 181.75,333.29 182.00,334.00 182.25,334.67 182.50,335.33 182.75,336.00 183.00,336.67 183.25,337.33 183.25,337.33 183.00,338.33 182.75,340.00 182.50,341.67 182.25,343.33 182.00,345.00 181.75,345.50 181.50,346.00 181.25,346.50 181.00,347.00 180.75,347.50 180.50,348.00 180.25,348.50 180.00,349.00 179.75,349.50 179.50,350.00 179.25,349.40 179.00,348.80 178.75,348.20 178.50,347.60 178.25,347.00 178.00,346.40 177.75,345.80 177.50,345.20 177.25,344.60 177.00,344.00 176.75,337.25 176.50,330.50 176.25,323.75 176.00,319.58" fill="#8fb1d1" fill-opacity="1"/><polygon points="195.50,320.00 195.75,320.54 196.00,321.08 196.25,321.62 196.50,322.17 196.75,322.71 197.00,323.25 197.25,323.79 197.50,324.33 197.75,324.88 198.00,325.42 198.25,325.96 198.50,326.50 198.75,325.75 199.00,325.00 199.25,324.25 199.50,323.50 199.75,322.75 200.00,322.00 200.25,321.25 200.50,320.50 200.75,319.75 201.00,319.00 201.25,318.93 201.50,318.86 201.75,318.79 202.00,318.71 202.25,318.64 202.50,318.57 202.75,318.50 203.00,318.43 203.25,318.36 203.50,318.29 203.75,318.21 204.00,318.14 204.25,318.07 204.50,318.00 204.50,318.00 204.25,318.38 204.00,320.00 203.75,323.00 203.50,326.00 203.25,329.00 203.00,332.00 202.75,335.00 202.50,338.00 202.25,339.33 202.00,340.67 201.75,342.00 201.50,343.33 201.25,344.67 201.00,346.00 200.75,347.50 200.50,349.00 200.25,350.50 200.00,352.00 199.75,353.50 199.50,355.00 199.25,356.50 199.00,358.00 198.75,355.75 198.50,353.50 198.25,351.25 198.00,349.00 197.75,346.75 197.50,344.50 197.25,342.25 197.00,340.00 196.75,336.67 196.50,333.33 196.25,330.00 196.00,326.67 195.75,323.33 195.50,320.00" fill="#8fb1d1" fill-opacity="1"/><polygon points="210.00,324.00 210.25,324.00 210.50,324.00 210.75,324.00 211.00,324.00 211.25,324.00 211.50,324.00 211.75,324.00 212.00,324.00 212.25,324.00 212.50,324.00 212.75,323.96 213.00,323.92 213.25,323.88 213.50,323.83 213.75,323.79 214.00,323.75 214.25,323.71 214.50,323.67 214.75,323.62 214.75,323.62 214.50,325.00 214.25,327.00 214.00,329.00 213.75,331.00 213.50,333.00 213.25,335.00 213.00,337.00 212.75,339.00 212.50,341.00 212.25,339.17 212.00,337.33 211.75,335.50 211.50,333.67 211.25,331.83 211.00,330.00 210.75,328.33 210.50,326.67 210.25,325.00 210.00,324.00" fill="#8fb1d1" fill-opacity="1"/><polygon points="249.00,321.00 249.25,320.25 249.50,319.50 249.75,318.75 250.00,318.00 250.25,317.25 250.50,316.50 250.75,316.25 251.00,316.00 251.25,315.75 251.50,315.50 251.75,315.25 252.00,315.00 252.25,314.75 252.50,314.50 252.75,314.25 253.00,314.00 253.25,314.08 253.50,314.17 253.75,314.25 254.00,314.33 254.25,314.42 254.50,314.50 254.75,314.58 255.00,314.67 255.25,314.75 255.50,314.83 255.75,314.92 256.00,315.00 256.25,315.38 256.50,315.75 256.75,316.12 257.00,316.50 257.25,316.88 257.50,317.25 257.75,317.62 258.00,318.00 258.25,318.38 258.50,318.75 258.75,319.12 259.00,319.50 259.25,318.96 259.50,318.42 259.75,317.88 260.00,317.33 260.25,316.79 260.50,316.25 260.75,315.71 261.00,315.17 261.25,314.62 261.50,314.08 261.75,313.54 262.00,313.00 262.25,312.75 262.50,312.50 262.75,312.25 263.00,312.00 263.25,311.75 263.50,311.50 263.75,311.25 264.00,311.00 264.25,310.75 264.50,310.50 264.75,311.00 264.80,311.10 265.00,311.50 265.25,312.00 265.50,312.50 265.75,313.00 266.00,313.50 266.25,314.00 266.50,314.50 266.75,315.00 267.00,315.50 267.25,316.00 267.50,316.50 267.75,316.90 268.00,317.30 268.00,317.30 267.75,318.75 267.50,322.50 267.25,326.25 267.00,330.00 266.75,340.00 266.50,350.00 266.25,353.75 266.00,357.50 265.75,361.25 265.50,365.00 265.25,368.75 265.00,372.50 264.80,375.50 264.75,374.93 264.50,372.08 264.25,369.24 264.00,366.39 263.75,363.54 263.50,360.69 263.25,357.85 263.00,355.00 262.75,352.67 262.50,350.33 262.25,348.00 262.00,345.67 261.75,343.33 261.50,341.00 261.25,340.30 261.00,339.60 260.75,338.90 260.50,338.20 260.25,337.50 260.00,336.80 259.75,336.10 259.50,335.40 259.25,334.70 259.00,334.00 258.75,336.50 258.50,339.00 258.25,341.50 258.00,344.00 257.75,345.00 257.50,346.00 257.25,347.00 257.00,348.00 256.75,349.00 256.50,350.00 256.25,350.21 256.00,350.42 255.75,350.62 255.50,350.83 255.25,351.04 255.00,351.25 254.75,351.46 254.50,351.67 254.25,351.88 254.00,352.08 253.75,352.29 253.50,352.50 253.25,351.25 253.00,350.00 252.75,348.75 252.50,347.50 252.25,346.25 252.00,345.00 251.75,343.75 251.50,342.50 251.25,341.25 251.00,340.00 250.75,337.50 250.50,335.00 250.25,332.50 250.00,330.00 249.75,327.50 249.50,325.00 249.25,322.50 249.00,321.00" fill="#8fb1d1" fill-opacity="1"/><polygon points="275.00,307.50 275.25,307.19 275.50,306.88 275.75,306.56 276.00,306.25 276.25,305.94 276.50,305.62 276.75,305.31 277.00,305.00 277.25,304.25 277.50,303.50 277.75,302.75 278.00,302.00 278.25,301.25 278.50,300.50 278.75,299.75 279.00,299.00 279.25,298.75 279.50,298.50 279.75,298.25 280.00,298.00 280.25,297.75 280.40,297.60 280.50,297.50 280.75,297.25 281.00,297.00 281.25,296.75 281.50,296.50 281.75,296.75 282.00,297.00 282.00,297.00 281.75,303.00 281.50,311.00 281.25,311.30 281.00,311.59 280.75,311.89 280.50,312.18 280.40,312.30 280.25,312.48 280.00,312.77 279.75,313.07 279.50,313.36 279.25,313.66 279.00,313.95 278.75,314.25 278.50,314.55 278.25,314.84 278.00,315.14 277.75,315.43 277.50,315.73 277.25,316.02 277.00,316.32 276.75,316.61 276.50,316.91 276.25,317.20 276.00,317.50 275.75,314.88 275.50,312.25 275.25,309.62 275.00,307.50" fill="#8fb1d1" fill-opacity="1"/><polygon points="311.25,306.75 311.50,305.50 311.75,304.25 312.00,303.00 312.25,301.75 312.40,301.00 312.50,300.50 312.75,299.25 313.00,298.00 313.25,297.67 313.50,297.33 313.75,297.00 314.00,296.67 314.25,296.33 314.50,296.00 314.75,295.67 315.00,295.33 315.25,295.00 315.50,294.67 315.75,294.33 316.00,294.00 316.25,293.42 316.50,292.83 316.75,292.25 317.00,291.67 317.25,291.08 317.50,290.50 317.75,289.92 318.00,289.33 318.25,288.75 318.50,288.17 318.75,287.58 319.00,287.00 319.25,286.50 319.50,286.00 319.60,285.80 319.75,285.50 320.00,285.00 320.25,284.50 320.50,284.00 320.75,283.50 321.00,283.00 321.25,282.50 321.50,282.00 321.75,281.50 322.00,281.00 322.00,281.00 321.75,288.25 321.50,295.50 321.25,302.75 321.00,310.00 320.75,315.79 320.50,321.57 320.25,327.36 320.00,333.14 319.75,338.93 319.60,342.40 319.50,341.92 319.25,340.73 319.00,339.54 318.75,338.35 318.50,337.15 318.25,335.96 318.00,334.77 317.75,333.58 317.50,332.38 317.25,331.19 317.00,330.00 316.75,327.25 316.50,324.50 316.25,321.75 316.00,319.00 315.75,316.25 315.50,313.50 315.25,310.75 315.00,308.00 314.75,308.38 314.50,308.77 314.25,309.15 314.00,309.54 313.75,309.92 313.50,310.31 313.25,310.69 313.00,311.08 312.75,311.46 312.50,311.85 312.40,312.00 312.25,311.13 312.00,309.67 311.75,308.21 311.50,306.75 311.25,306.75" fill="#8fb1d1" fill-opacity="1"/><polygon points="342.40,275.47 342.50,275.50 342.75,275.58 343.00,275.67 343.25,275.75 343.50,275.83 343.75,275.92 344.00,276.00 344.25,275.90 344.50,275.81 344.75,275.71 345.00,275.62 345.25,275.52 345.50,275.42 345.50,275.42 345.25,276.78 345.00,281.63 344.75,286.47 344.50,291.31 344.25,296.16 344.00,301.00 343.75,296.78 343.50,292.56 343.25,288.34 343.00,284.13 342.75,279.91 342.50,275.69 342.40,275.47" fill="#8fb1d1" fill-opacity="1"/><polygon points="353.25,278.62 353.50,278.42 353.75,278.21 354.00,278.00 354.25,277.67 354.50,277.33 354.75,277.00 355.00,276.67 355.25,276.33 355.50,276.00 355.75,275.67 356.00,275.33 356.25,275.00 356.50,274.67 356.75,274.33 357.00,274.00 357.25,273.69 357.50,273.38 357.75,273.06 358.00,272.75 358.25,272.44 358.50,272.12 358.75,271.81 359.00,271.50 359.25,271.19 359.50,270.88 359.75,270.56 360.00,270.25 360.25,269.94 360.40,269.75 360.50,269.62 360.75,269.31 361.00,269.00 361.25,269.38 361.50,269.77 361.75,270.15 362.00,270.54 362.25,270.92 362.50,271.31 362.50,271.31 362.25,274.50 362.00,278.00 361.75,281.44 361.50,284.87 361.25,288.31 361.00,291.75 360.75,295.19 360.50,298.62 360.40,300.00 360.25,301.12 360.00,303.00 359.75,304.87 359.50,306.75 359.25,308.62 359.00,310.50 358.75,312.37 358.50,314.25 358.25,316.12 358.00,318.00 357.75,316.50 357.50,315.00 357.25,313.50 357.00,312.00 356.75,310.50 356.50,309.00 356.25,307.50 356.00,306.00 355.75,304.50 355.50,303.00 355.25,301.50 355.00,300.00 354.75,296.88 354.50,293.75 354.25,290.62 354.00,287.50 353.75,284.38 353.50,281.25 353.25,278.62" fill="#8fb1d1" fill-opacity="1"/><polygon points="388.75,270.10 389.00,270.83 389.25,271.56 389.40,272.00 389.50,271.92 389.75,271.73 390.00,271.54 390.25,271.35 390.50,271.15 390.60,271.08 390.75,270.96 391.00,270.77 391.25,270.58 391.50,270.38 391.50,270.38 391.25,271.50 391.00,274.00 390.75,276.50 390.60,278.00 390.50,277.67 390.25,276.83 390.00,276.00 389.75,275.17 389.50,274.33 389.40,274.00 389.25,272.93 389.00,271.14 388.75,270.10" fill="#8fb1d1" fill-opacity="1"/><polygon points="78.50,280.00 78.75,283.15 79.00,282.30 79.25,281.45 79.50,280.60 79.75,279.75 80.00,278.90 80.25,278.05 80.50,277.20 80.75,276.35 81.00,275.50 81.25,276.88 81.50,278.25 81.75,279.62 82.00,281.00 82.25,282.38 82.50,283.75 82.75,285.12 83.00,286.50 83.25,287.88 83.50,289.25 83.75,290.62 84.00,292.00 84.25,295.00 84.50,298.00 84.75,300.00 84.75,300.00 84.50,300.00 84.25,300.00 84.00,300.00 83.75,300.00 83.50,300.00 83.25,300.00 83.00,300.00 82.75,300.00 82.50,300.00 82.25,300.00 82.00,300.00 81.75,299.88 81.50,299.75 81.25,299.62 81.00,299.50 80.75,299.38 80.50,299.25 80.25,299.12 80.00,299.00 79.75,295.83 79.50,292.67 79.25,289.50 79.00,286.33 78.75,283.17 78.50,280.00" fill="#f08080" fill-opacity="1"/><polygon points="108.25,311.16 108.50,310.25 108.75,308.88 109.00,307.50 109.25,306.12 109.50,304.75 109.75,303.38 110.00,302.00 110.25,300.62 110.50,299.25 110.75,297.88 111.00,296.50 111.25,299.44 111.50,302.38 111.75,305.31 112.00,306.79 112.00,306.79 111.75,307.25 111.50,307.71 111.25,308.18 111.00,308.64 110.75,309.11 110.50,309.57 110.25,310.04 110.00,310.50 109.75,310.59 109.50,310.69 109.25,310.78 109.00,310.88 108.75,310.97 108.50,311.06 108.25,311.16" fill="#f08080" fill-opacity="1"/><polygon points="186.75,299.32 187.00,297.59 187.25,295.49 187.50,293.39 187.75,291.28 188.00,289.18 188.20,287.50 188.25,287.50 188.50,287.50 188.75,287.50 189.00,287.50 189.25,287.50 189.50,287.50 189.75,287.50 190.00,287.50 190.25,287.50 190.50,287.50 190.75,288.81 191.00,290.12 191.25,290.88 191.25,290.88 191.00,290.50 190.75,290.62 190.50,290.75 190.25,290.88 190.00,291.00 189.75,291.12 189.50,291.25 189.25,291.38 189.00,291.50 188.75,291.62 188.50,291.75 188.25,291.88 188.20,291.90 188.00,292.00 187.75,293.46 187.50,294.93 187.25,296.39 187.00,297.86 186.75,299.32" fill="#f08080" fill-opacity="1"/><polygon points="217.75,278.15 218.00,276.48 218.25,274.72 218.50,272.96 218.75,271.21 219.00,269.45 219.25,267.69 219.50,265.93 219.75,264.17 220.00,262.41 220.25,260.65 220.30,260.30 220.50,260.17 220.75,260.01 221.00,259.84 221.25,259.68 221.50,259.51 221.75,259.35 222.00,259.19 222.25,259.02 222.50,258.86 222.75,258.69 223.00,258.53 223.20,258.40 223.25,258.47 223.50,258.82 223.75,259.17 224.00,259.51 224.25,259.86 224.50,260.21 224.75,260.56 225.00,260.91 225.25,261.26 225.50,261.60 225.75,261.95 226.00,262.30 226.25,261.67 226.50,261.03 226.75,260.40 227.00,259.77 227.25,259.13 227.50,258.50 227.75,257.87 228.00,257.23 228.25,256.60 228.50,255.97 228.75,255.33 229.00,254.70 229.25,254.89 229.50,255.08 229.75,255.27 230.00,255.47 230.25,255.66 230.50,255.85 230.75,256.04 231.00,256.23 231.25,256.43 231.50,256.62 231.75,256.81 232.00,257.00 232.25,257.58 232.50,258.15 232.75,258.73 233.00,259.31 233.25,259.88 233.50,260.46 233.75,261.04 234.00,261.62 234.25,262.19 234.50,262.77 234.60,263.00 234.75,264.38 235.00,266.67 235.25,268.96 235.50,271.25 235.75,273.54 236.00,275.83 236.25,278.12 236.50,280.42 236.75,282.71 237.00,285.00 237.25,286.50 237.50,288.00 237.75,289.40 237.75,289.40 237.50,288.60 237.25,287.80 237.00,287.00 236.75,287.04 236.50,287.08 236.25,287.12 236.00,287.17 235.75,287.21 235.50,287.25 235.25,287.29 235.00,287.33 234.75,287.38 234.60,287.40 234.50,287.42 234.25,287.46 234.00,287.50 233.75,287.25 233.50,287.00 233.25,286.75 233.00,286.50 232.75,286.25 232.50,286.00 232.25,285.75 232.00,285.50 231.75,285.25 231.50,285.00 231.25,285.25 231.00,285.50 230.75,285.75 230.50,286.00 230.25,286.25 230.00,286.50 229.75,286.75 229.50,287.00 229.25,287.25 229.00,287.50 228.75,287.75 228.50,288.00 228.25,287.25 228.00,286.50 227.75,285.75 227.50,285.00 227.25,284.25 227.00,283.50 226.75,282.75 226.50,282.00 226.25,281.25 226.00,280.50 225.75,279.75 225.50,279.00 225.25,279.30 225.00,279.60 224.75,279.90 224.50,280.20 224.25,280.50 224.00,280.80 223.75,281.10 223.50,281.40 223.25,281.70 223.20,281.76 223.00,282.00 222.75,281.79 222.50,281.58 222.25,281.38 222.00,281.17 221.75,280.96 221.50,280.75 221.25,280.54 221.00,280.33 220.75,280.12 220.50,279.92 220.30,279.75 220.25,279.71 220.00,279.50 219.75,279.35 219.50,279.20 219.25,279.05 219.00,278.90 218.75,278.75 218.50,278.60 218.25,278.45 218.00,278.30 217.75,278.15" fill="#f08080" fill-opacity="1"/><polygon points="331.50,264.00 331.75,262.50 332.00,260.00 332.25,257.50 332.50,255.00 332.75,252.50 333.00,250.00 333.25,248.50 333.50,247.00 333.60,246.40 333.75,245.50 334.00,244.00 334.25,242.50 334.50,241.00 334.75,239.50 335.00,238.00 335.25,236.50 335.50,235.00 335.75,233.50 336.00,232.00 336.25,231.08 336.50,230.15 336.75,229.23 337.00,228.31 337.25,227.38 337.50,226.46 337.75,225.54 338.00,224.62 338.25,223.69 338.50,222.77 338.60,222.40 338.75,224.12 339.00,225.67 339.00,225.67 338.75,226.75 338.60,227.40 338.50,227.83 338.25,228.92 338.00,230.00 337.75,231.67 337.50,233.33 337.25,235.00 337.00,236.67 336.75,238.33 336.50,240.00 336.25,241.67 336.00,243.33 335.75,245.00 335.50,246.67 335.25,248.33 335.00,250.00 334.75,251.00 334.50,252.00 334.25,253.00 334.00,254.00 333.75,255.00 333.60,255.60 333.50,256.00 333.25,257.00 333.00,258.00 332.75,259.00 332.50,260.00 332.25,261.00 332.00,262.00 331.75,263.00 331.50,264.00" fill="#f08080" fill-opacity="1"/><polygon points="348.25,220.42 348.50,215.50 348.75,209.25 349.00,203.00 349.25,196.75 349.50,190.50 349.60,188.00 349.75,192.50 350.00,200.00 350.25,207.50 350.50,215.00 350.75,222.50 351.00,225.25 351.00,225.25 350.75,224.19 350.50,223.12 350.25,222.06 350.00,221.00 349.75,220.92 349.60,220.87 349.50,220.83 349.25,220.75 349.00,220.67 348.75,220.58 348.50,220.50 348.25,220.42" fill="#f08080" fill-opacity="1"/><polygon points="372.00,217.33 372.25,217.81 372.40,218.00 372.50,218.12 372.75,218.44 373.00,218.75 373.25,219.06 373.50,219.38 373.75,219.69 374.00,220.00 374.25,220.25 374.40,220.40 374.50,220.50 374.75,220.75 375.00,221.00 375.25,221.25 375.50,221.50 375.75,221.75 376.00,222.00 376.25,222.25 376.50,222.50 376.75,222.75 377.00,223.00 377.25,221.90 377.50,220.79 377.75,219.69 378.00,218.58 378.25,217.48 378.50,216.37 378.75,215.27 379.00,214.17 379.25,213.06 379.40,212.40 379.50,213.50 379.60,214.60 379.75,216.25 380.00,219.00 380.25,221.75 380.50,224.50 380.75,227.25 381.00,230.00 381.25,232.50 381.50,235.00 381.75,237.50 382.00,240.00 382.25,242.50 382.40,244.00 382.50,243.46 382.75,242.12 383.00,240.77 383.25,239.42 383.50,238.08 383.75,236.73 384.00,235.38 384.25,234.04 384.40,233.23 384.50,232.69 384.75,231.35 385.00,230.00 385.25,233.00 385.50,232.85 385.50,232.85 385.25,234.42 385.00,236.00 384.75,237.73 384.50,239.46 384.40,240.15 384.25,241.19 384.00,242.92 383.75,244.65 383.50,246.38 383.25,248.12 383.00,249.85 382.75,251.58 382.50,253.31 382.40,254.00 382.25,253.38 382.00,252.33 381.75,251.29 381.50,250.25 381.25,249.21 381.00,248.17 380.75,247.13 380.50,246.08 380.25,245.04 380.00,244.00 379.75,243.67 379.60,243.47 379.50,243.33 379.40,243.20 379.25,243.00 379.00,242.67 378.75,242.33 378.50,242.00 378.25,241.67 378.00,241.33 377.75,241.00 377.50,240.67 377.25,240.33 377.00,240.00 376.75,239.00 376.50,238.00 376.25,237.00 376.00,236.00 375.75,235.00 375.50,234.00 375.25,233.00 375.00,232.00 374.75,231.00 374.50,230.00 374.40,229.60 374.25,229.00 374.00,228.00 373.75,226.67 373.50,225.33 373.25,224.00 373.00,222.67 372.75,221.33 372.50,220.00 372.40,219.47 372.25,218.67 372.00,217.33" fill="#f08080" fill-opacity="1"/><polygon points="88.70,355.95 88.75,356.12 89.00,357.00 89.25,357.50 89.50,358.00 89.75,358.50 90.00,359.00 90.25,359.50 90.50,360.00 90.75,360.50 91.00,361.00 91.25,361.50 91.50,362.00 91.75,362.50 92.00,363.00 92.25,364.88 92.50,366.75 92.75,368.62 93.00,370.50 93.25,372.38 93.50,374.25 93.75,376.12 94.00,378.00 94.25,378.50 94.50,379.00 94.75,379.50 95.00,380.00 95.25,380.50 95.50,381.00 95.75,380.12 96.00,379.25 96.25,378.38 96.50,377.50 96.75,376.62 96.75,376.62 96.50,379.00 96.25,382.33 96.00,385.67 95.75,389.00 95.50,392.33 95.25,395.67 95.00,399.00 94.75,399.42 94.50,399.83 94.25,400.25 94.00,400.67 93.75,401.08 93.50,401.50 93.25,401.92 93.00,402.33 92.75,402.75 92.50,403.17 92.25,403.58 92.00,404.00 91.75,401.10 91.50,398.20 91.25,395.30 91.00,392.40 90.75,389.50 90.50,386.60 90.25,383.70 90.00,380.80 89.75,377.90 89.50,375.00 89.25,368.75 89.00,362.50 88.75,356.25 88.70,355.95" fill="#2c6ca8" fill-opacity="1"/><polygon points="121.00,365.67 121.25,365.75 121.50,365.83 121.75,365.92 122.00,366.00 122.25,366.92 122.50,367.83 122.75,368.75 123.00,369.67 123.25,370.58 123.50,371.50 123.75,372.42 124.00,373.33 124.25,374.25 124.50,375.17 124.75,376.08 124.75,376.08 124.50,376.00 124.25,376.50 124.00,377.00 123.75,377.50 123.50,378.00 123.25,378.50 123.00,379.00 122.75,379.50 122.50,380.00 122.25,380.50 122.00,381.00 121.75,377.17 121.50,373.33 121.25,369.50 121.00,365.67" fill="#2c6ca8" fill-opacity="1"/><polygon points="140.75,376.75 141.00,376.17 141.25,375.58 141.50,375.00 141.75,373.86 142.00,372.71 142.25,371.57 142.50,370.43 142.50,370.43 142.25,372.62 142.00,376.08 141.75,379.54 141.50,383.00 141.25,380.83 141.00,378.67 140.75,376.75" fill="#2c6ca8" fill-opacity="1"/><polygon points="252.00,346.00 252.25,345.50 252.50,345.00 252.75,344.50 253.00,344.00 253.25,343.50 253.50,343.00 253.75,342.50 254.00,342.00 254.25,342.33 254.50,342.67 254.75,343.00 255.00,343.33 255.25,343.67 255.50,344.00 255.75,344.33 256.00,344.67 256.25,345.00 256.50,345.33 256.75,345.67 257.00,346.00 257.25,346.75 257.50,347.50 257.50,347.50 257.25,347.00 257.00,348.00 256.75,349.00 256.50,350.00 256.25,350.21 256.00,350.42 255.75,350.62 255.50,350.83 255.25,351.04 255.00,351.25 254.75,351.46 254.50,351.67 254.25,351.88 254.00,352.08 253.75,352.29 253.50,352.50 253.25,351.25 253.00,350.00 252.75,348.75 252.50,347.50 252.25,346.25 252.00,346.00" fill="#2c6ca8" fill-opacity="1"/><polygon points="263.00,356.60 263.25,356.40 263.50,356.20 263.75,356.00 264.00,355.80 264.25,355.60 264.50,355.40 264.75,355.20 264.80,355.16 265.00,355.00 265.25,354.40 265.50,353.80 265.75,353.20 266.00,352.60 266.25,352.00 266.50,351.40 266.50,351.40 266.25,353.75 266.00,357.50 265.75,361.25 265.50,365.00 265.25,368.75 265.00,372.50 264.80,375.50 264.75,374.93 264.50,372.08 264.25,369.24 264.00,366.39 263.75,363.54 263.50,360.69 263.25,357.85 263.00,356.60" fill="#2c6ca8" fill-opacity="1"/><polygon points="312.75,311.75 313.00,311.00 313.25,310.25 313.50,309.50 313.75,308.75 314.00,308.00 314.25,309.83 314.25,309.83 314.00,309.54 313.75,309.92 313.50,310.31 313.25,310.69 313.00,311.08 312.75,311.75" fill="#2c6ca8" fill-opacity="1"/><polygon points="317.00,330.00 317.25,330.83 317.50,331.67 317.75,332.50 318.00,333.33 318.25,334.17 318.50,335.00 318.75,335.83 319.00,336.67 319.25,337.50 319.50,338.33 319.60,338.67 319.75,339.17 319.75,339.17 319.60,342.40 319.50,341.92 319.25,340.73 319.00,339.54 318.75,338.35 318.50,337.15 318.25,335.96 318.00,334.77 317.75,333.58 317.50,332.38 317.25,331.19 317.00,330.00" fill="#2c6ca8" fill-opacity="1"/><polygon points="357.75,317.75 358.00,317.00 358.25,316.25 358.25,316.25 358.00,318.00 357.75,317.75" fill="#2c6ca8" fill-opacity="1"/>
<polyline points="78.5,280.0 80.0,299.0 82.0,300.0 85.0,300.0 87.0,304.0 89.5,315.5 92.0,307.0 95.0,307.0 97.5,293.5 100.0,304.5 102.5,306.0 106.0,312.0 110.0,310.5 113.5,304.0 116.5,302.5 120.0,312.0 122.0,313.0 125.0,298.5 128.0,318.0 130.5,331.0 133.0,318.0 138.5,285.5 141.5,285.0 144.0,300.5 149.5,290.5 152.5,294.0 157.0,303.5 160.5,294.5 163.5,298.0 166.0,288.5 169.5,289.5 172.0,288.5 174.5,291.5 178.0,305.0 181.0,308.5 184.5,312.5 188.0,292.0 191.0,290.5 194.0,295.0 196.0,296.0 198.5,288.0 201.5,278.5 204.0,287.0 207.0,289.5 209.5,286.0 212.5,281.0 215.5,273.5 217.5,278.0 220.0,279.5 223.0,282.0 225.5,279.0 228.5,288.0 231.5,285.0 234.0,287.5 237.0,287.0 239.5,295.0 242.5,290.0 245.5,283.5 247.5,296.0 250.5,297.5 253.5,302.5 256.0,292.0 259.0,278.5 262.0,277.5 264.5,267.0 266.5,259.5 270.0,256.5 272.8,278.5 275.0,258.0 276.0,254.0 278.0,256.0 280.4,254.0 283.5,264.0 286.4,254.4 289.0,260.5 292.0,263.5 295.0,267.0 298.0,272.5 300.0,265.0 305.0,252.0 308.0,251.0 311.0,260.0 316.0,247.0 322.0,231.0 325.0,238.0 328.0,256.0 331.0,266.0 335.0,250.0 338.0,230.0 341.0,217.0 344.0,226.0 347.0,220.0 350.0,221.0 354.0,238.0 357.0,239.0 360.4,221.6 363.0,230.0 367.0,220.0 371.0,212.0 374.0,228.0 377.0,240.0 380.0,244.0 382.4,254.0 385.0,236.0 387.6,219.6 390.0,230.0 393.0,233.0 396.0,228.0 399.6,221.6 402.0,223.0 404.4,226.0 408.0,215.0 410.0,209.0 412.4,213.0 415.0,208.0 418.0,210.0 421.0,209.0 424.0,205.0 427.0,197.0 429.0,203.0 432.0,190.0 435.0,182.0 438.0,179.0 440.0,181.0 442.4,177.0 445.0,194.0 448.0,199.0 451.0,199.0 454.0,193.0 456.0,200.0 459.0,181.0 462.0,195.0 465.0,196.0 469.0,192.0 473.0,183.0 475.0,186.0 479.0,176.0 482.0,179.0 484.0,183.0 487.0,172.0 490.0,167.0 494.0,169.0 497.0,172.0 500.0,185.0 503.0,185.0 504.0,177.0 507.0,163.0 511.0,159.0 514.0,151.0 516.4,143.0 519.0,151.0 522.0,137.0 525.0,139.0 530.0,136.0 533.0,122.0 535.6,118.0 538.0,123.0 541.0,139.0 544.0,136.0 547.0,138.0 549.6,148.0 553.0,138.0 557.0,134.0 560.0,132.0 563.0,123.0 566.0,120.0 568.4,119.0 571.0,134.0 574.4,144.0 577.0,143.0 580.0,136.0 583.0,129.0 586.0,132.0 589.0,126.0 593.0,115.0 596.0,128.0 599.0,119.0 601.6,113.4 605.0,115.0 607.0,117.0 610.0,112.6 613.0,114.4 618.0,114.0 621.0,119.0 623.6,127.0 627.0,121.0 630.0,118.0 634.0,124.0 637.0,119.0 640.0,116.0 643.0,120.0 645.6,126.0 649.0,119.0 651.6,121.0 654.0,115.0 657.0,121.0 661.0,112.0 664.0,118.0 667.0,119.0 673.0,118.0 675.6,108.0 678.0,119.0 681.0,120.0 683.4,108.0 686.0,108.0 689.0,114.0 692.0,117.0 695.0,128.0 698.0,123.0 701.0,121.0 704.0,126.0 708.0,119.0 711.0,115.0 714.0,123.0 717.0,122.0 720.0,127.0 723.0,136.0 726.0,135.0 728.0,127.0 730.0,132.0 734.0,138.0 738.0,145.0 741.0,147.0 743.6,151.0 746.4,145.0 749.0,162.0 752.0,162.0 755.0,149.0 757.6,142.0 760.4,154.0 763.0,163.0 766.0,163.0 769.0,175.0 771.0,178.0 774.0,159.0 777.0,162.0 779.6,164.0 782.0,161.0 785.0,186.0 787.6,175.0 790.0,180.0 793.0,185.0 796.0,186.0 800.0,193.0 803.6,197.0 806.4,202.0 809.6,194.0 813.0,196.0 816.0,193.0 818.4,191.0 821.0,194.0 824.0,197.0 827.0,196.0 829.0,198.0 832.0,196.0 834.6,195.0 837.0,197.0 840.0,192.0 842.4,194.0 845.0,200.0 848.0,199.0 851.0,204.0 854.0,200.0 856.4,197.0 859.0,198.0 862.0,214.0 866.0,221.0 869.0,211.0 871.6,210.0 875.0,212.0 877.6,213.0 880.4,222.0 883.0,224.0 886.0,221.0 889.0,235.0 891.6,225.0 894.4,236.0 897.0,213.0 899.6,213.0 902.0,221.0 905.0,229.0 908.0,231.0 911.0,233.0 914.0,247.0 916.4,257.0 919.0,249.0 922.0,261.0 925.0,259.0 927.6,251.0 930.4,275.0 933.0,272.0 936.0,278.0 939.0,271.0 942.0,259.0 944.0,260.0 946.4,281.0 949.0,265.0 951.6,255.0 954.4,257.0 957.0,256.0 960.0,265.0 963.0,258.0 966.0,275.0 968.4,288.0 971.0,278.0 974.0,277.0 977.0,282.0 979.0,286.0 982.0,301.0 987.0,303.0 990.5,284.5 993.0,305.0 995.5,295.0 998.5,275.5 1001.0,284.0 1004.0,281.5 1006.5,289.5 1009.5,284.0 1012.5,290.5 1015.0,280.5 1018.0,283.5 1020.5,284.5 1023.2,278.0 1026.0,302.0 1028.0,301.0 1030.5,306.0 1032.0,304.0 1034.0,293.0 1036.0,307.0 1038.0,311.0 1040.0,307.0 1042.5,287.0 1045.5,286.5 1050.5,293.5 1053.5,288.0 1056.0,270.0 1058.5,273.0 1061.0,284.5 1064.0,285.5 1067.0,292.0 1070.0,297.5 1072.5,301.0 1075.0,297.0" fill="none" stroke="#ff0000" stroke-width="0.9" stroke-dasharray="2.57,1.11"/>
<polyline points="78.5,361.0 79.5,357.0 81.0,350.0 84.0,347.0 87.0,350.0 89.0,357.0 92.0,363.0 94.0,378.0 95.5,381.0 97.5,374.0 100.0,384.0 102.5,371.5 105.5,380.5 108.0,366.0 110.5,360.0 114.0,370.0 116.0,369.5 119.0,365.0 122.0,366.0 125.0,377.0 127.5,386.0 130.0,394.0 132.5,385.5 136.0,385.5 138.5,382.0 141.5,375.0 145.0,359.0 147.0,375.0 149.5,378.0 152.5,368.5 155.0,369.0 157.5,372.0 161.0,361.5 163.5,369.0 165.5,389.0 168.5,381.5 171.0,388.0 174.0,397.0 176.5,383.0 179.0,379.5 182.5,389.5 185.0,381.0 188.0,370.0 190.0,378.0 193.0,386.5 195.5,375.0 198.5,365.0 201.5,363.5 204.5,370.0 207.5,363.0 210.5,352.0 212.5,343.5 216.5,346.0 220.0,351.0 223.5,352.0 226.5,359.0 231.0,361.5 234.0,373.0 237.0,378.0 239.0,369.0 241.0,355.0 242.5,344.5 245.0,350.0 248.0,358.5 251.0,348.0 254.0,342.0 257.0,346.0 260.0,355.0 262.5,357.0 265.0,355.0 267.5,349.0 270.0,355.0 273.0,369.0 276.0,359.0 279.0,342.0 281.5,331.0 284.0,327.0 287.0,333.0 290.0,340.0 293.0,347.0 296.0,351.5 299.0,352.0 302.0,350.0 306.0,341.0 309.0,328.0 312.0,314.0 314.0,308.0 317.0,330.0 320.0,340.0 323.0,337.0 326.0,330.0 329.0,332.0 333.0,321.0 335.0,340.0 338.0,348.0 341.0,334.0 344.0,321.0 347.0,317.0 350.0,328.0 353.0,325.0 356.0,323.0 359.0,314.0 361.0,324.0 363.0,334.0 366.0,318.0 369.0,301.0 371.6,310.0 374.0,320.0 377.0,328.0 380.0,312.0 382.4,310.0 385.0,316.0 388.0,295.0 390.0,308.0 393.0,298.0 396.0,297.0 399.0,304.0 402.0,318.0 404.4,328.0 408.0,317.0 410.0,312.0 413.0,299.0 416.0,286.0 420.0,273.0 423.0,282.0 427.0,275.0 430.0,283.0 433.0,291.0 436.0,293.0 439.6,304.0 443.0,295.0 447.0,291.0 450.0,280.0 453.0,276.0 456.0,270.0 459.0,270.0 462.0,285.0 465.0,286.0 468.0,271.0 471.0,260.0 474.0,251.0 477.0,258.0 480.0,263.0 484.0,263.0 487.0,267.0 489.0,250.0 492.0,241.0 495.0,247.0 500.0,234.4 503.0,244.0 506.0,258.0 510.0,262.0 513.6,268.0 516.0,255.0 519.0,238.0 522.0,235.0 524.6,267.0 527.0,247.0 530.0,242.0 533.0,235.0 536.0,231.0 538.4,234.0 541.0,241.0 544.0,230.0 547.0,225.0 550.0,223.0 552.0,217.0 555.0,205.0 558.0,204.0 561.0,200.0 563.0,195.0 566.0,206.0 569.0,208.0 572.0,212.0 574.4,209.0 576.4,212.0 579.0,190.0 582.0,200.0 585.0,173.0 588.0,185.0 591.0,198.0 594.0,191.0 599.0,166.0 602.0,173.0 607.0,189.0 610.0,184.0 612.0,171.0 615.0,161.0 618.0,159.0 621.0,164.0 624.0,182.0 627.0,171.0 630.0,172.0 633.0,167.0 636.0,167.0 639.0,165.0 642.0,168.0 645.0,180.0 648.0,185.0 651.0,189.0 654.0,171.0 656.0,168.0 658.0,175.0 661.0,194.0 664.0,175.0 667.0,161.0 670.0,153.0 673.0,159.0 676.0,169.0 679.0,174.0 682.0,172.0 684.0,168.0 687.0,173.0 690.0,174.0 693.0,177.0 697.0,176.0 700.0,185.0 703.0,191.0 706.0,181.0 709.0,175.0 711.6,174.0 714.0,168.0 716.4,177.0 720.0,173.0 723.0,177.0 727.0,193.0 730.0,197.0 733.0,205.0 737.0,215.0 739.0,211.0 741.0,202.0 743.6,202.0 746.0,211.0 749.0,231.0 752.0,220.0 755.0,214.0 757.6,213.0 760.0,232.0 763.0,227.0 765.6,214.0 768.0,226.0 771.0,219.0 774.0,205.0 777.0,221.0 780.0,239.0 783.0,245.0 787.0,249.0 790.0,243.0 793.0,235.0 796.0,232.0 798.4,229.0 801.0,243.0 804.4,242.0 807.0,239.0 810.0,245.0 813.0,253.0 816.0,255.0 819.0,255.0 821.0,259.0 824.0,247.0 826.0,240.0 828.6,238.0 831.0,253.0 834.0,280.0 837.0,263.0 839.6,253.0 842.0,249.0 845.0,257.0 848.0,260.0 850.4,272.0 854.0,261.0 857.0,271.0 859.6,282.0 862.4,279.0 865.0,294.0 867.6,281.0 870.4,277.0 873.0,284.0 876.0,293.0 879.0,300.0 883.0,291.0 886.0,286.0 889.0,287.0 892.0,286.0 894.4,293.0 896.0,303.0 899.0,317.0 902.4,331.0 905.6,326.0 909.0,319.0 913.0,315.0 916.0,318.0 919.0,332.0 922.0,345.0 925.0,336.0 928.0,331.0 931.0,334.0 935.0,340.0 938.0,334.0 941.0,329.0 944.0,319.0 946.4,336.0 949.6,351.0 952.4,353.0 955.0,349.0 957.6,351.0 960.0,338.0 963.0,342.0 965.6,350.0 968.4,358.0 971.0,360.0 973.6,364.0 976.4,353.0 979.0,356.0 982.0,364.0 985.0,363.0 988.0,365.0 991.0,373.0 993.6,382.0 996.0,389.0 998.4,389.0 1001.0,363.0 1003.0,361.0 1005.6,366.0 1008.4,368.0 1011.0,349.0 1012.4,340.0 1015.0,351.0 1017.6,357.0 1020.0,345.0 1022.4,355.0 1025.0,350.0 1028.0,360.0 1031.0,384.0 1034.0,372.0 1037.0,363.0 1040.0,358.0 1042.4,357.0 1045.0,369.0 1047.6,354.0 1050.0,352.0 1053.0,349.0 1056.0,347.0 1058.4,352.0 1061.0,361.0 1064.0,357.0 1067.0,357.0 1069.6,362.0 1072.4,367.0 1075.0,359.0 1076.0,358.0" fill="none" stroke="#add8e6" stroke-width="1.39" stroke-dasharray="5.14,2.22"/>
<polyline points="78.5,331.5 79.0,331.5 81.0,336.5 83.5,330.0 86.5,322.0 89.0,330.0 91.5,336.5 94.5,340.0 97.0,333.5 99.5,334.5 102.5,331.5 105.0,335.0 108.0,336.5 111.0,342.0 114.5,342.5 117.0,345.0 120.0,348.5 122.0,341.0 124.5,336.5 127.0,341.0 130.0,348.0 133.0,353.5 136.0,347.0 139.0,336.5 142.0,337.0 144.5,336.5 147.0,331.5 149.5,343.0 152.5,353.0 155.0,341.0 158.5,328.5 161.0,328.5 163.0,335.0 165.5,350.0 167.0,351.0 169.0,329.5 171.0,331.0 173.5,325.0 176.5,318.5 179.0,325.5 182.0,334.0 183.5,338.0 185.0,334.0 187.0,347.0 188.5,349.0 191.0,331.0 194.0,325.0 195.5,320.0 198.5,326.5 201.0,319.0 204.5,318.0 207.0,313.0 209.5,324.0 212.5,324.0 215.5,323.5 218.0,319.0 221.0,317.0 225.0,315.5 228.0,315.0 231.5,312.0 234.0,315.0 237.0,318.0 239.5,319.5 242.5,315.5 245.0,319.5 248.0,324.0 250.5,316.5 253.0,314.0 256.0,315.0 259.0,319.5 262.0,313.0 264.5,310.5 267.5,316.5 270.0,320.5 272.5,309.0 275.0,307.5 277.0,305.0 279.0,299.0 281.5,296.5 284.0,299.0 286.5,300.0 289.0,297.0 292.0,285.0 294.0,295.0 296.0,309.0 298.0,314.0 300.0,316.0 302.0,301.0 305.0,306.0 308.0,301.0 311.0,308.0 313.0,298.0 316.0,294.0 319.0,287.0 322.0,281.0 324.4,290.0 326.6,303.0 329.0,301.0 331.0,298.0 333.6,299.0 336.0,288.0 339.0,270.0 341.0,275.0 344.0,276.0 346.6,275.0 349.0,269.0 351.6,280.0 354.0,278.0 357.0,274.0 361.0,269.0 363.6,273.0 365.6,279.0 368.0,261.0 370.0,255.0 372.4,261.0 374.4,269.0 377.0,265.0 379.6,271.0 382.0,275.0 384.4,268.0 387.0,265.0 389.4,272.0 392.0,270.0 394.6,268.0 397.0,272.0 399.0,281.0 402.0,279.0 405.0,276.0 408.0,267.0 410.0,264.0 412.4,268.0 415.0,256.0 418.0,247.0 421.0,241.0 423.6,234.0 426.0,239.0 429.0,225.0 432.0,224.0 435.0,233.0 437.4,224.0 440.0,257.0 443.0,241.0 446.0,236.0 448.4,230.0 451.0,235.0 455.0,238.0 459.0,243.0 462.0,238.0 464.4,219.0 467.6,244.0 470.0,228.0 472.4,232.0 475.0,223.0 478.0,213.0 481.0,218.0 484.0,207.0 487.0,201.0 489.0,192.0 491.0,205.0 494.0,210.0 498.0,203.0 502.0,210.0 505.0,202.0 507.6,196.0 511.0,205.0 514.0,217.0 516.4,218.0 519.0,204.0 522.0,200.0 525.0,193.0 527.6,192.0 530.0,173.0 533.0,181.0 535.6,193.0 539.0,194.0 542.0,197.0 544.6,200.0 547.0,189.0 549.0,179.0 552.0,164.0 554.6,159.0 557.4,168.0 560.0,164.0 563.0,175.0 565.6,172.0 568.0,162.0 571.0,159.0 574.0,160.0 576.4,154.0 579.0,159.0 582.0,155.0 585.0,150.0 587.0,150.0 590.0,158.0 593.0,161.0 596.0,154.0 599.0,149.0 601.6,141.0 604.0,145.0 607.0,153.0 609.0,152.0 612.0,155.0 615.0,148.0 618.0,142.0 620.4,135.0 623.0,142.0 626.0,145.0 629.0,144.0 632.0,146.6 635.0,149.0 638.0,146.0 641.0,147.4 644.0,140.0 646.0,139.0 648.4,141.0 651.0,136.0 653.6,142.0 657.0,140.6 661.0,139.4 664.0,138.0 667.0,142.0 670.0,140.0 672.6,135.0 675.6,138.0 678.0,143.0 681.0,148.0 683.4,143.0 686.0,142.0 689.0,150.0 691.6,160.0 694.4,158.0 697.0,161.0 700.0,156.0 702.0,157.0 705.0,153.0 708.0,154.0 711.0,152.0 713.6,146.6 716.0,147.4 719.0,147.4 722.0,150.0 725.0,155.0 727.6,150.0 730.0,155.0 733.0,157.0 736.0,157.0 739.0,162.0 742.0,170.0 744.4,179.0 746.6,186.0 749.6,179.0 752.4,174.6 755.0,176.0 757.6,175.0 760.0,181.0 762.4,195.0 765.4,202.0 768.0,191.0 770.4,195.0 773.6,192.0 776.0,195.0 779.0,196.0 782.0,216.0 784.6,202.0 787.0,203.0 790.0,208.0 793.0,213.0 796.0,206.0 799.0,205.0 802.0,215.0 804.4,226.0 806.4,214.0 809.0,221.0 812.0,213.0 815.0,211.0 817.4,227.0 820.0,236.0 823.0,224.0 825.6,224.0 828.6,221.0 831.0,223.0 834.0,217.0 838.0,214.6 842.0,214.0 844.4,223.0 847.0,230.0 850.0,235.0 853.6,233.0 857.0,236.0 860.0,243.0 863.0,250.0 865.4,251.0 868.0,244.0 870.0,238.0 872.4,246.0 875.0,249.0 877.6,261.0 880.4,249.0 883.0,258.0 886.0,264.0 889.0,263.0 891.6,256.0 894.4,263.0 897.0,265.0 900.0,264.0 902.4,273.0 905.0,264.0 907.6,272.0 911.0,269.4 914.0,271.0 917.0,276.0 920.0,289.0 922.4,300.0 925.0,314.0 927.6,315.0 930.0,309.0 932.4,316.0 935.0,307.0 938.0,299.0 941.0,290.0 944.0,290.0 947.0,299.0 949.6,305.0 952.4,302.0 955.0,304.0 957.6,307.0 960.0,299.0 963.0,309.0 966.0,317.0 969.0,323.0 971.6,327.0 974.4,321.0 977.0,308.0 979.0,309.0 981.6,323.0 985.0,329.0 988.0,332.0 991.0,333.0 993.0,329.0 996.0,344.0 998.4,340.0 1001.0,340.0 1003.6,329.0 1006.6,316.0 1009.0,321.0 1012.0,315.0 1014.4,319.0 1017.0,318.0 1020.0,316.0 1023.0,319.0 1026.0,318.0 1028.4,333.0 1031.0,330.0 1034.0,340.0 1037.0,338.0 1039.0,327.0 1042.0,325.0 1045.0,335.0 1048.0,323.0 1050.4,313.0 1053.6,310.6 1056.0,320.0 1059.0,321.0 1061.0,320.0 1064.0,330.0 1067.0,324.0 1069.6,323.6 1072.4,326.0 1075.0,331.0 1076.0,333.0" fill="none" stroke="#000" stroke-width="2.8" stroke-linejoin="round" stroke-linecap="butt"/>
<polyline points="78.5,284.0 81.0,275.5 84.0,292.0 85.5,310.0 87.0,322.0 88.0,332.0 88.7,355.0 89.5,375.0 92.0,404.0 95.0,399.0 96.5,379.0 98.5,360.0 100.0,353.0 101.5,355.0 103.0,365.0 104.5,355.0 105.5,345.0 106.5,335.0 108.0,313.0 111.0,296.5 113.0,320.0 114.0,332.0 114.5,339.0 117.0,340.0 119.5,339.0 120.0,348.0 120.5,358.0 122.0,381.0 125.0,375.0 128.0,367.0 130.5,358.0 132.0,354.0 133.5,343.0 135.0,344.0 137.0,348.0 138.5,358.0 140.0,370.0 141.5,383.0 142.8,365.0 144.0,352.0 144.5,343.0 145.5,330.0 147.0,314.0 150.0,330.5 152.5,322.0 155.0,300.0 158.0,320.0 159.0,327.0 160.5,343.0 161.5,332.0 163.5,328.0 165.0,340.0 166.5,343.0 168.0,350.0 169.0,358.0 170.5,333.0 172.0,320.0 174.5,302.5 176.0,317.0 177.0,344.0 179.5,350.0 182.0,345.0 183.5,335.0 185.0,320.0 186.0,306.0 188.2,287.5 190.5,287.5 192.5,298.0 194.0,310.0 195.5,320.0 197.0,340.0 199.0,358.0 201.0,346.0 202.5,338.0 204.0,320.0 207.0,300.5 209.5,320.0 211.0,330.0 212.5,341.0 214.5,325.0 215.5,305.0 217.5,280.0 220.3,260.3 223.2,258.4 226.0,262.3 229.0,254.7 232.0,257.0 234.6,263.0 237.0,285.0 239.0,297.0 240.5,303.0 242.5,305.5 244.0,300.0 245.5,291.0 247.0,298.0 248.5,315.0 249.5,325.0 251.0,340.0 253.5,352.5 256.5,350.0 258.0,344.0 259.0,334.0 261.5,341.0 263.0,355.0 264.8,375.5 266.5,350.0 267.0,330.0 268.0,315.0 269.5,305.0 271.0,297.0 272.8,288.5 274.0,298.0 275.0,307.0 276.0,317.5 281.5,311.0 282.0,295.0 283.0,275.0 283.8,265.5 286.5,278.5 289.0,266.5 290.5,278.0 292.0,284.5 293.5,291.0 295.0,302.0 298.0,292.0 301.0,287.0 303.0,294.0 306.0,288.0 308.4,279.0 310.0,298.0 312.4,312.0 315.0,308.0 317.0,330.0 319.6,342.4 321.0,310.0 322.0,281.0 324.4,290.0 326.6,301.0 330.0,280.0 333.0,250.0 336.0,232.0 338.6,222.4 341.0,250.0 342.4,274.0 344.0,301.0 345.6,270.0 348.0,228.0 349.6,188.0 351.0,230.0 353.0,275.0 355.0,300.0 358.0,318.0 360.4,300.0 362.0,278.0 364.0,250.0 366.0,233.0 369.0,225.0 371.6,217.0 374.0,220.0 377.0,223.0 379.4,212.4 381.0,230.0 382.4,244.0 385.0,230.0 387.0,254.0 388.0,264.0 389.4,274.0 390.6,278.0 392.0,264.0 393.0,250.0 396.0,235.0 399.0,258.0" fill="none" stroke="#000" stroke-width="1.1" stroke-linejoin="miter"/>
</g>
<rect x="78.5" y="60.5" width="997.0" height="385.0" fill="none" stroke="#000" stroke-width="1.1"/>
<line x1="78.5" x2="78.5" y1="445.5" y2="450.9" stroke="#000" stroke-width="1.1"/>
<text x="78.60" y="468.8" text-anchor="middle" class="t12" style="letter-spacing:-0.2px">Ene</text>
<line x1="163.5" x2="163.5" y1="445.5" y2="450.9" stroke="#000" stroke-width="1.1"/>
<text x="163.53" y="468.8" text-anchor="middle" class="t12" style="letter-spacing:-0.2px">Feb</text>
<line x1="240.5" x2="240.5" y1="445.5" y2="450.9" stroke="#000" stroke-width="1.1"/>
<text x="240.23" y="468.8" text-anchor="middle" class="t12" style="letter-spacing:-0.2px">Mar</text>
<line x1="325.5" x2="325.5" y1="445.5" y2="450.9" stroke="#000" stroke-width="1.1"/>
<text x="325.16" y="468.8" text-anchor="middle" class="t12" style="letter-spacing:-0.2px">Abr</text>
<line x1="407.5" x2="407.5" y1="445.5" y2="450.9" stroke="#000" stroke-width="1.1"/>
<text x="407.34" y="468.8" text-anchor="middle" class="t12" style="letter-spacing:-0.2px">May</text>
<line x1="492.5" x2="492.5" y1="445.5" y2="450.9" stroke="#000" stroke-width="1.1"/>
<text x="492.27" y="468.8" text-anchor="middle" class="t12" style="letter-spacing:-0.2px">Jun</text>
<line x1="574.5" x2="574.5" y1="445.5" y2="450.9" stroke="#000" stroke-width="1.1"/>
<text x="574.45" y="468.8" text-anchor="middle" class="t12" style="letter-spacing:-0.2px">Jul</text>
<line x1="659.5" x2="659.5" y1="445.5" y2="450.9" stroke="#000" stroke-width="1.1"/>
<text x="659.38" y="468.8" text-anchor="middle" class="t12" style="letter-spacing:-0.2px">Ago</text>
<line x1="744.5" x2="744.5" y1="445.5" y2="450.9" stroke="#000" stroke-width="1.1"/>
<text x="744.30" y="468.8" text-anchor="middle" class="t12" style="letter-spacing:-0.2px">Sep</text>
<line x1="826.5" x2="826.5" y1="445.5" y2="450.9" stroke="#000" stroke-width="1.1"/>
<text x="826.49" y="468.8" text-anchor="middle" class="t12" style="letter-spacing:-0.2px">Oct</text>
<line x1="911.5" x2="911.5" y1="445.5" y2="450.9" stroke="#000" stroke-width="1.1"/>
<text x="911.41" y="468.8" text-anchor="middle" class="t12" style="letter-spacing:-0.2px">Nov</text>
<line x1="993.5" x2="993.5" y1="445.5" y2="450.9" stroke="#000" stroke-width="1.1"/>
<text x="993.60" y="468.8" text-anchor="middle" class="t12" style="letter-spacing:-0.2px">Dic</text>
<line x1="73.1" x2="78.5" y1="406.5" y2="406.5" stroke="#000" stroke-width="1.1"/>
<text x="67.6" y="413.80" text-anchor="end" class="t14">0</text>
<line x1="73.1" x2="78.5" y1="358.5" y2="358.5" stroke="#000" stroke-width="1.1"/>
<text x="67.6" y="365.80" text-anchor="end" class="t14">5</text>
<line x1="73.1" x2="78.5" y1="310.5" y2="310.5" stroke="#000" stroke-width="1.1"/>
<text x="67.6" y="317.80" text-anchor="end" class="t14">10</text>
<line x1="73.1" x2="78.5" y1="263.5" y2="263.5" stroke="#000" stroke-width="1.1"/>
<text x="67.6" y="270.80" text-anchor="end" class="t14">15</text>
<line x1="73.1" x2="78.5" y1="215.5" y2="215.5" stroke="#000" stroke-width="1.1"/>
<text x="67.6" y="222.80" text-anchor="end" class="t14">20</text>
<line x1="73.1" x2="78.5" y1="167.5" y2="167.5" stroke="#000" stroke-width="1.1"/>
<text x="67.6" y="174.80" text-anchor="end" class="t14">25</text>
<line x1="73.1" x2="78.5" y1="120.5" y2="120.5" stroke="#000" stroke-width="1.1"/>
<text x="67.6" y="127.80" text-anchor="end" class="t14">30</text>
<line x1="73.1" x2="78.5" y1="72.5" y2="72.5" stroke="#000" stroke-width="1.1"/>
<text x="67.6" y="79.80" text-anchor="end" class="t14">35</text>
<text x="575.8" y="31.8" text-anchor="middle" class="title">Temperatura Media diaria - Torres</text>
<text x="49" y="54.2" class="t12">℃</text>
<text x="83" y="54.2" class="t12">Última temp: 2026-04-28</text>
<text x="89" y="84" class="wm">WWW.EMBALSES.NET</text>
<rect x="185.5" y="476.5" width="782" height="40" rx="3" fill="#fff" fill-opacity="0.8" stroke="#ccc" stroke-width="1"/>
<line x1="192" x2="225" y1="491.5" y2="491.5" stroke="#ff0000" stroke-width="0.9" stroke-dasharray="2.57,1.11"/>
<text x="239" y="497" class="t12">Percentil 95</text>
<line x1="370" x2="403" y1="491.5" y2="491.5" stroke="#add8e6" stroke-width="1.39" stroke-dasharray="5.14,2.22"/>
<text x="417" y="497" class="t12">Percentil 5</text>
<line x1="537" x2="571" y1="491.5" y2="491.5" stroke="#000" stroke-width="2.8"/>
<text x="584" y="497" class="t12">Temperatura Mediana</text>
<line x1="799" x2="833" y1="491.5" y2="491.5" stroke="#000" stroke-width="1.1"/>
<text x="846" y="497" class="t12">T. Media 2026</text>
</svg>
</body></html>
